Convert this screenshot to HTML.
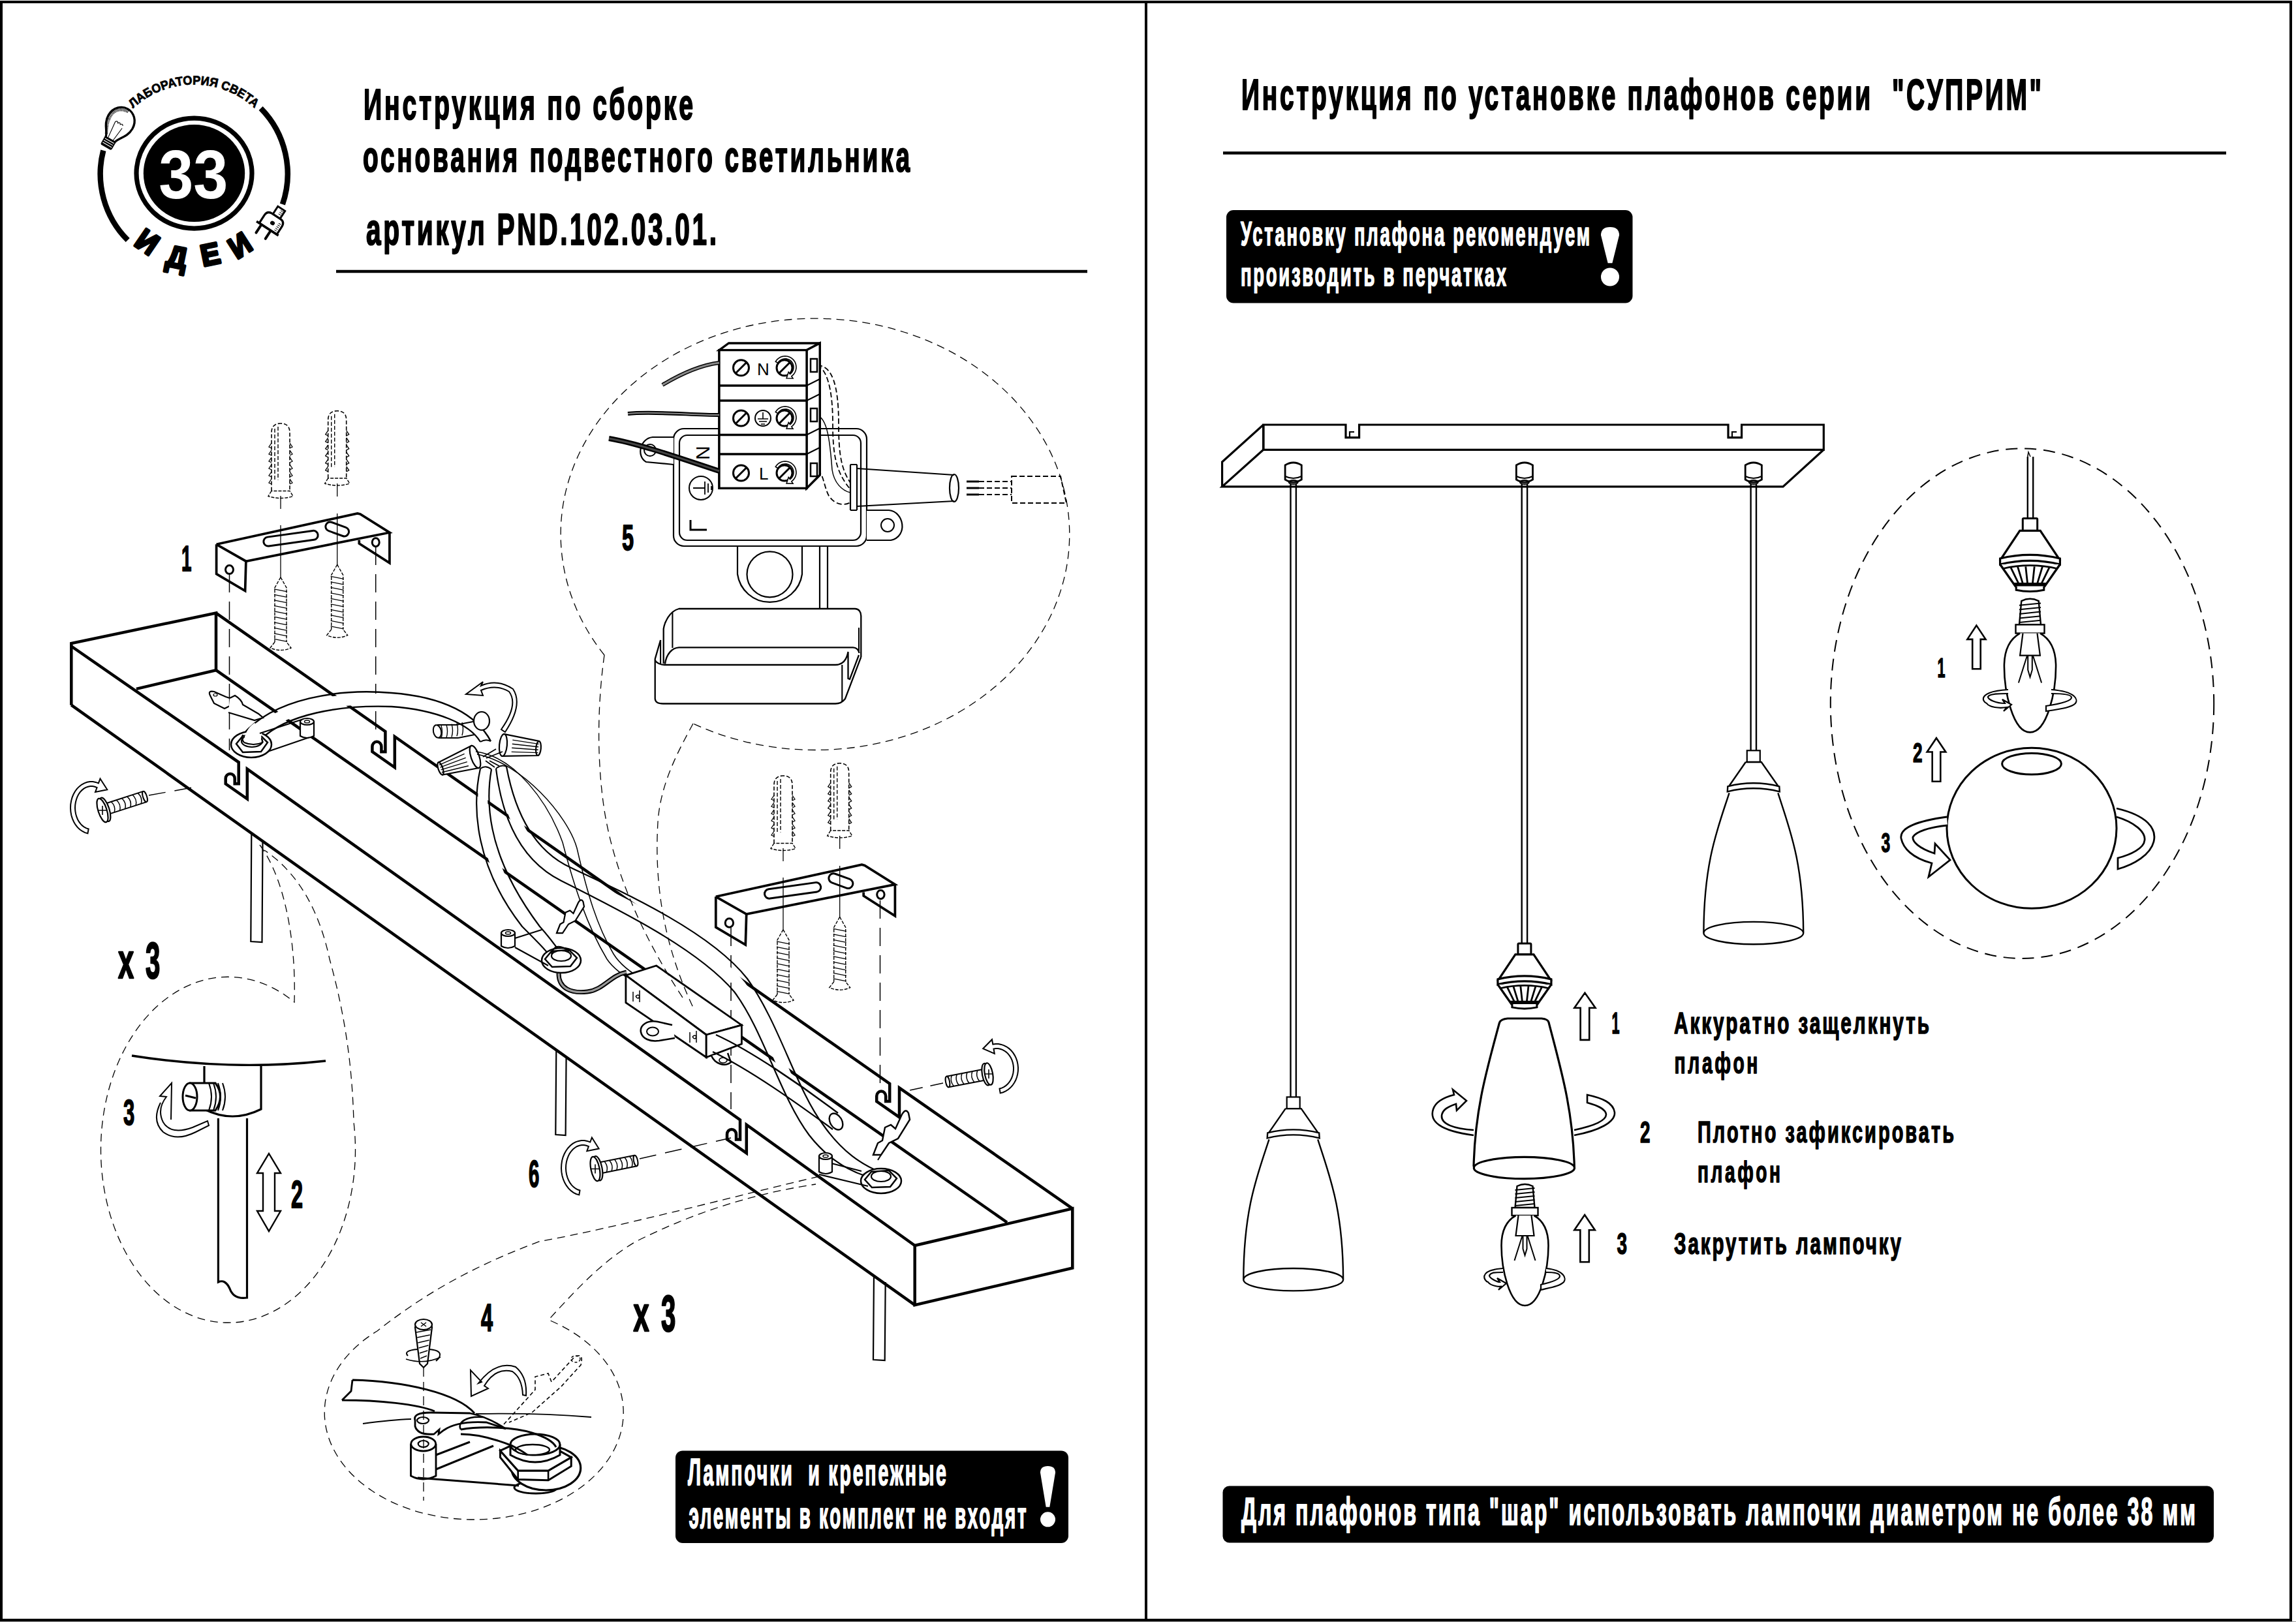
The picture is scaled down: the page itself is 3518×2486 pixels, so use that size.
<!DOCTYPE html>
<html><head><meta charset="utf-8"><title>Инструкция</title>
<style>
html,body{margin:0;padding:0;background:#fff;width:3518px;height:2486px;overflow:hidden}
svg{display:block}
text{font-family:"Liberation Sans",sans-serif}
</style></head><body>
<svg width="3518" height="2486" viewBox="0 0 3518 2486">
<rect x="0" y="0" width="3518" height="2486" fill="#fff"/>
<rect x="2" y="3" width="3508" height="2480" fill="none" stroke="#000" stroke-width="4"/>
<line x1="1756" y1="3" x2="1756" y2="2483" stroke="#000" stroke-width="4"/>
<rect x="0" y="2485" width="3518" height="1" fill="#999"/>
<text xml:space="preserve" transform="translate(557,182.7) scale(0.5854606131415689,1)" font-size="67" font-weight="bold" fill="#000" stroke="#000" stroke-width="2.2" stroke-linejoin="round" textLength="862.6" lengthAdjust="spacing" >Инструкция по сборке</text>
<text xml:space="preserve" transform="translate(556,263) scale(0.5790438408315901,1)" font-size="67" font-weight="bold" fill="#000" stroke="#000" stroke-width="2.2" stroke-linejoin="round" textLength="1447.2" lengthAdjust="spacing" >основания подвестного светильника</text>
<text xml:space="preserve" transform="translate(561,374.8) scale(0.5980021395892292,1)" font-size="68" font-weight="bold" fill="#000" stroke="#000" stroke-width="2.2" stroke-linejoin="round" textLength="898" lengthAdjust="spacing" >артикул PND.102.03.01.</text>
<line x1="515" y1="416" x2="1666" y2="416" stroke="#000" stroke-width="4.5"/>
<text xml:space="preserve" transform="translate(1902,168) scale(0.581358933994996,1)" font-size="67" font-weight="bold" fill="#000" stroke="#000" stroke-width="2.2" stroke-linejoin="round" textLength="2108.9" lengthAdjust="spacing" >Инструкция по установке плафонов серии  "СУПРИМ"</text>
<line x1="1874" y1="234.5" x2="3411" y2="234.5" stroke="#000" stroke-width="4.5"/>
<rect x="1879" y="322" width="622.5" height="142.5" rx="11" fill="#000" stroke="none" stroke-width="0"/>
<text xml:space="preserve" transform="translate(1901,375.7) scale(0.5275359982084873,1)" font-size="52" font-weight="bold" fill="#fff" stroke="#fff" stroke-width="1.7" stroke-linejoin="round" textLength="1014.1" lengthAdjust="spacing" >Установку плафона рекомендуем</text>
<text xml:space="preserve" transform="translate(1901,438.4) scale(0.5301058672148847,1)" font-size="52" font-weight="bold" fill="#fff" stroke="#fff" stroke-width="1.7" stroke-linejoin="round" textLength="767.8" lengthAdjust="spacing" >производить в перчатках</text>
<path d="M2453,360.6 Q2453,348 2467,348 Q2481,348 2481,360.6 L2470.4,403.3 L2463.6,403.3 Z" fill="#fff" stroke="none" stroke-width="0" />
<circle cx="2467" cy="424.5" r="14" fill="#fff"/>
<rect x="1873.5" y="2277.5" width="1518.5" height="87" rx="10" fill="#000" stroke="none" stroke-width="0"/>
<text xml:space="preserve" transform="translate(1902,2337.4) scale(0.5439782796666152,1)" font-size="59" font-weight="bold" fill="#fff" stroke="#fff" stroke-width="1.9" stroke-linejoin="round" textLength="2687.6" lengthAdjust="spacing" >Для плафонов типа "шар" использовать лампочки диаметром не более 38 мм</text>
<rect x="1035" y="2223.4" width="602" height="141.6" rx="11" fill="#000" stroke="none" stroke-width="0"/>
<text xml:space="preserve" transform="translate(1054,2276.2) scale(0.5017740118359542,1)" font-size="57" font-weight="bold" fill="#fff" stroke="#fff" stroke-width="1.9" stroke-linejoin="round" textLength="789.2" lengthAdjust="spacing" >Лампочки  и крепежные</text>
<text xml:space="preserve" transform="translate(1055.5,2341.7) scale(0.4875219298245614,1)" font-size="57" font-weight="bold" fill="#fff" stroke="#fff" stroke-width="1.9" stroke-linejoin="round" textLength="1060.5" lengthAdjust="spacing" >элементы в комплект не входят</text>
<path d="M1594,2257.3 Q1594,2247 1605.5,2247 Q1617,2247 1617,2257.3 L1608.3,2309.8 L1602.7,2309.8 Z" fill="#fff" stroke="none" stroke-width="0" />
<circle cx="1605.5" cy="2328.8" r="11.5" fill="#fff"/>
<path d="M195.7,368 A143.5,143.5 0 0 1 158.3,230.6" fill="none" stroke="#000" stroke-width="8.5" />
<path d="M399.6,165.9 A143.5,143.5 0 0 1 432.9,313.2" fill="none" stroke="#000" stroke-width="8.5" />
<ellipse cx="297.5" cy="265.6" rx="88.5" ry="84.5" fill="none" stroke="#000" stroke-width="7.2"/>
<ellipse cx="297.5" cy="265.6" rx="77.7" ry="74.5" fill="#000"/>
<text x="243.2" y="304" font-size="106" font-weight="bold" fill="#fff" textLength="106" lengthAdjust="spacingAndGlyphs" >33</text>
<path id="topArc" d="M203.8,166.3 A137,137 0 0 1 402.1,178.4" fill="none"/>
<text font-size="19" font-weight="bold" fill="#000" stroke="#000" stroke-width="0.8"><textPath href="#topArc" textLength="205" lengthAdjust="spacingAndGlyphs">ЛАБОРАТОРИЯ  СВЕТА</textPath></text>
<text x="0" y="17.5" font-size="46" font-weight="bold" text-anchor="middle" fill="#000" stroke="#000" stroke-width="4" stroke-linejoin="round" transform="translate(226.7,369.5) rotate(34.4) scale(0.95,1)">И</text>
<text x="0" y="17.5" font-size="46" font-weight="bold" text-anchor="middle" fill="#000" stroke="#000" stroke-width="4" stroke-linejoin="round" transform="translate(271.5,392.6) rotate(11.5) scale(0.95,1)">Д</text>
<text x="0" y="17.5" font-size="46" font-weight="bold" text-anchor="middle" fill="#000" stroke="#000" stroke-width="4" stroke-linejoin="round" transform="translate(321.8,388.2) rotate(-11.4) scale(0.95,1)">Е</text>
<text x="0" y="17.5" font-size="46" font-weight="bold" text-anchor="middle" fill="#000" stroke="#000" stroke-width="4" stroke-linejoin="round" transform="translate(366.8,374.8) rotate(-32.7) scale(0.95,1)">И</text>
<g transform="translate(181,193) rotate(30) scale(0.88)"><path d="M-9,28 C-10,18 -24,10 -24,-8 C-24,-24 -12,-34 0,-34 C12,-34 24,-24 24,-8 C24,10 10,18 9,28 Z" fill="#fff" stroke="#000" stroke-width="3.8"/><path d="M-11,22 C-16,12 -20,4 -20,-8 C-20,-22 -10,-30 3,-30" fill="none" stroke="#000" stroke-width="5" stroke-dasharray="1.1 1.1"/><rect x="-11" y="26" width="22" height="17" rx="3" fill="#000"/><path d="M-9,30 H9 M-9,34 H9 M-9,38 H9" stroke="#fff" stroke-width="1.3"/><path d="M-5,26 L-8,-4 M5,26 L8,0 M-8,-4 q3,-4 5,0 q3,-4 5,0 q3,-4 5,0" fill="none" stroke="#000" stroke-width="1.3"/></g>
<g transform="translate(409,349.5) rotate(33)"><path d="M-14,0 V-14 Q-14,-23 -5,-23 H9 Q18,-23 18,-14 V0 Z" fill="#fff" stroke="#000" stroke-width="3.2"/><path d="M11,-16 H15 M11,-13 H15 M11,-10 H15 M11,-7 H15 M11,-4 H15" stroke="#000" stroke-width="1"/><rect x="-4" y="-37" width="13" height="14" fill="#fff" stroke="#000" stroke-width="3"/><path d="M3,-34 H7 M3,-31 H7 M3,-28 H7" stroke="#000" stroke-width="1"/><path d="M-19,0 H21" stroke="#000" stroke-width="3.6"/><path d="M-10,2 V15 M7,2 V15" stroke="#000" stroke-width="4" stroke-linecap="round"/><ellipse cx="3" cy="-11" rx="3.6" ry="3.2" fill="#000"/></g>
<polyline points="109.3,1080.7 109.3,986 331,939.6 331,1027.1 208.9,1055.9" fill="none" stroke="#000" stroke-width="4.5" stroke-linejoin="miter" stroke-linecap="butt"/>
<path d="M109.3,990.5 L365.7,1168.3 V1201.3 H359.7 V1193.3 A6.6,7 0 0 0 345.7,1193.3 V1201.3 L378.8,1224.5 V1178.7 L1134,1716.4 V1746.4 H1128 V1738.4 A6.6,7 0 0 0 1114,1738.4 V1746.4 L1143.8,1767.3 V1724 L1401.7,1909" fill="none" stroke="#000" stroke-width="4.5" />
<path d="M331,939.6 L590.4,1121.2 V1152.2 H584.4 V1144.2 A6.6,7 0 0 0 570.4,1144.2 V1152.2 L604.8,1176.3 V1129 L1363.2,1661 V1688 H1357.2 V1680 A6.6,7 0 0 0 1343.2,1680 V1688 L1378,1712.4 V1667.4 L1643.3,1852.3" fill="none" stroke="#000" stroke-width="4.5" />
<line x1="331" y1="1027.1" x2="1543" y2="1873.5" stroke="#000" stroke-width="4.5"/>
<line x1="109.3" y1="1080.7" x2="1401.7" y2="2000.2" stroke="#000" stroke-width="4.5"/>
<polygon points="1401.7,1909 1643.3,1852.3 1643.3,1943.5 1401.7,2000.2" fill="none" stroke="#000" stroke-width="4.5" stroke-linejoin="miter" stroke-linecap="butt"/>
<polyline points="385.3,1278 384.3,1443 401.5,1444 402.5,1288" fill="none" stroke="#000" stroke-width="2.2" stroke-linejoin="miter" stroke-linecap="butt"/>
<polyline points="852.3,1609 851.3,1739 866.6,1740 867.6,1619" fill="none" stroke="#000" stroke-width="2.2" stroke-linejoin="miter" stroke-linecap="butt"/>
<polyline points="1339,1955 1338,2084 1355.7,2085 1356.7,1965" fill="none" stroke="#000" stroke-width="2.2" stroke-linejoin="miter" stroke-linecap="butt"/>
<polyline points="331.6,834.3 547.7,786.9 552,788 596.9,816.2 376.9,860.2 331.6,834.3" fill="none" stroke="#000" stroke-width="3.7" stroke-linejoin="miter" stroke-linecap="butt"/>
<polyline points="331.6,834.3 331.6,879.6 375.6,905.5 376.9,860.2" fill="none" stroke="#000" stroke-width="3.7" stroke-linejoin="miter" stroke-linecap="butt"/>
<polyline points="550.3,827.8 550.3,833 596.9,862.8 596.9,816.2" fill="none" stroke="#000" stroke-width="3.7" stroke-linejoin="miter" stroke-linecap="butt"/>
<ellipse cx="351.5" cy="873.1" rx="6" ry="6.5" fill="none" stroke="#000" stroke-width="3"/>
<ellipse cx="575.7" cy="831.2" rx="5.5" ry="6.5" fill="none" stroke="#000" stroke-width="3"/>
<rect x="403.5" y="818.2" width="84" height="14" rx="7" fill="none" stroke="#000" stroke-width="3" transform="rotate(-8 445.5 825.2)"/>
<rect x="498.2" y="804" width="37" height="14" rx="7" fill="none" stroke="#000" stroke-width="3" transform="rotate(20 516.7 811)"/>
<polyline points="1096.8,1374.3 1320.5,1325.2 1324.9,1326.4 1371.4,1355.6 1143.7,1401.1 1096.8,1374.3" fill="none" stroke="#000" stroke-width="3.7" stroke-linejoin="miter" stroke-linecap="butt"/>
<polyline points="1096.8,1374.3 1096.8,1421.2 1142.3,1448 1143.7,1401.1" fill="none" stroke="#000" stroke-width="3.7" stroke-linejoin="miter" stroke-linecap="butt"/>
<polyline points="1323.2,1367.6 1323.2,1373 1371.4,1403.8 1371.4,1355.6" fill="none" stroke="#000" stroke-width="3.7" stroke-linejoin="miter" stroke-linecap="butt"/>
<ellipse cx="1117.4" cy="1414.5" rx="6.2" ry="6.7" fill="none" stroke="#000" stroke-width="3"/>
<ellipse cx="1349.4" cy="1371.1" rx="5.7" ry="6.7" fill="none" stroke="#000" stroke-width="3"/>
<rect x="1171.2" y="1357.6" width="86.9" height="14.5" rx="7.2" fill="none" stroke="#000" stroke-width="3" transform="rotate(-8 1214.7 1364.9)"/>
<rect x="1269.2" y="1342.9" width="38.3" height="14.5" rx="7.2" fill="none" stroke="#000" stroke-width="3" transform="rotate(20 1288.4 1350.2)"/>
<path d="M416,752.5 V663 Q416,649 430,649 Q444,649 444,663 V752.5" fill="none" stroke="#000" stroke-width="1.6" stroke-dasharray="6 3" />
<path d="M426,654 V735.5 M421,657 V735.5" fill="none" stroke="#000" stroke-width="1.4" stroke-dasharray="6 3" />
<path d="M416,679 l-4,6 l4,2 M444,679 l4,6 l-4,2" fill="none" stroke="#000" stroke-width="1.3" />
<path d="M416,690 l-4,6 l4,2 M444,690 l4,6 l-4,2" fill="none" stroke="#000" stroke-width="1.3" />
<path d="M416,701 l-4,6 l4,2 M444,701 l4,6 l-4,2" fill="none" stroke="#000" stroke-width="1.3" />
<path d="M416,712 l-4,6 l4,2 M444,712 l4,6 l-4,2" fill="none" stroke="#000" stroke-width="1.3" />
<path d="M416,723 l-4,6 l4,2 M444,723 l4,6 l-4,2" fill="none" stroke="#000" stroke-width="1.3" />
<path d="M416,734 l-4,6 l4,2 M444,734 l4,6 l-4,2" fill="none" stroke="#000" stroke-width="1.3" />
<path d="M416,752.5 L411,760.5 Q430,766.5 449,760.5 L444,752.5 Z" fill="none" stroke="#000" stroke-width="1.4" stroke-dasharray="5 2" />
<path d="M502.7,733 V643.8 Q502.7,629.8 516.7,629.8 Q530.7,629.8 530.7,643.8 V733" fill="none" stroke="#000" stroke-width="1.6" stroke-dasharray="6 3" />
<path d="M512.7,634.8 V716 M507.7,637.8 V716" fill="none" stroke="#000" stroke-width="1.4" stroke-dasharray="6 3" />
<path d="M502.7,659.8 l-4,6 l4,2 M530.7,659.8 l4,6 l-4,2" fill="none" stroke="#000" stroke-width="1.3" />
<path d="M502.7,670.8 l-4,6 l4,2 M530.7,670.8 l4,6 l-4,2" fill="none" stroke="#000" stroke-width="1.3" />
<path d="M502.7,681.8 l-4,6 l4,2 M530.7,681.8 l4,6 l-4,2" fill="none" stroke="#000" stroke-width="1.3" />
<path d="M502.7,692.8 l-4,6 l4,2 M530.7,692.8 l4,6 l-4,2" fill="none" stroke="#000" stroke-width="1.3" />
<path d="M502.7,703.8 l-4,6 l4,2 M530.7,703.8 l4,6 l-4,2" fill="none" stroke="#000" stroke-width="1.3" />
<path d="M502.7,714.8 l-4,6 l4,2 M530.7,714.8 l4,6 l-4,2" fill="none" stroke="#000" stroke-width="1.3" />
<path d="M502.7,733 L497.7,741 Q516.7,747 535.7,741 L530.7,733 Z" fill="none" stroke="#000" stroke-width="1.4" stroke-dasharray="5 2" />
<path d="M430,884.8 L421,900.8 V984 M430,884.8 L439,900.8 V984" fill="none" stroke="#000" stroke-width="1.4" stroke-dasharray="5 2" />
<path d="M420,902.8 L440,906.8 M420,911.3 L440,915.3 M420,919.8 L440,923.8 M420,928.3 L440,932.3 M420,936.8 L440,940.8 M420,945.3 L440,949.3 M420,953.8 L440,957.8 M420,962.3 L440,966.3 M420,970.8 L440,974.8 M420,979.3 L440,983.3 " fill="none" stroke="#000" stroke-width="1.3" />
<path d="M421,984 L414,993 Q430,1000 446,993 L439,984" fill="none" stroke="#000" stroke-width="1.4" stroke-dasharray="5 2" />
<path d="M516.7,865.4 L507.7,881.4 V964.7 M516.7,865.4 L525.7,881.4 V964.7" fill="none" stroke="#000" stroke-width="1.4" stroke-dasharray="5 2" />
<path d="M506.7,883.4 L526.7,887.4 M506.7,891.9 L526.7,895.9 M506.7,900.4 L526.7,904.4 M506.7,908.9 L526.7,912.9 M506.7,917.4 L526.7,921.4 M506.7,925.9 L526.7,929.9 M506.7,934.4 L526.7,938.4 M506.7,942.9 L526.7,946.9 M506.7,951.4 L526.7,955.4 M506.7,959.9 L526.7,963.9 " fill="none" stroke="#000" stroke-width="1.3" />
<path d="M507.7,964.7 L500.7,973.7 Q516.7,980.7 532.7,973.7 L525.7,964.7" fill="none" stroke="#000" stroke-width="1.4" stroke-dasharray="5 2" />
<line x1="430" y1="760" x2="430" y2="780" stroke="#000" stroke-width="1.3"/>
<line x1="430" y1="805" x2="430" y2="885" stroke="#000" stroke-width="1.3"/>
<line x1="516.7" y1="741" x2="516.7" y2="761" stroke="#000" stroke-width="1.3"/>
<line x1="516.7" y1="787" x2="516.7" y2="866" stroke="#000" stroke-width="1.3"/>
<path d="M1186,1292.5 V1203 Q1186,1189 1200,1189 Q1214,1189 1214,1203 V1292.5" fill="none" stroke="#000" stroke-width="1.6" stroke-dasharray="6 3" />
<path d="M1196,1194 V1275.5 M1191,1197 V1275.5" fill="none" stroke="#000" stroke-width="1.4" stroke-dasharray="6 3" />
<path d="M1186,1219 l-4,6 l4,2 M1214,1219 l4,6 l-4,2" fill="none" stroke="#000" stroke-width="1.3" />
<path d="M1186,1230 l-4,6 l4,2 M1214,1230 l4,6 l-4,2" fill="none" stroke="#000" stroke-width="1.3" />
<path d="M1186,1241 l-4,6 l4,2 M1214,1241 l4,6 l-4,2" fill="none" stroke="#000" stroke-width="1.3" />
<path d="M1186,1252 l-4,6 l4,2 M1214,1252 l4,6 l-4,2" fill="none" stroke="#000" stroke-width="1.3" />
<path d="M1186,1263 l-4,6 l4,2 M1214,1263 l4,6 l-4,2" fill="none" stroke="#000" stroke-width="1.3" />
<path d="M1186,1274 l-4,6 l4,2 M1214,1274 l4,6 l-4,2" fill="none" stroke="#000" stroke-width="1.3" />
<path d="M1186,1292.5 L1181,1300.5 Q1200,1306.5 1219,1300.5 L1214,1292.5 Z" fill="none" stroke="#000" stroke-width="1.4" stroke-dasharray="5 2" />
<path d="M1272.7,1273 V1183.8 Q1272.7,1169.8 1286.7,1169.8 Q1300.7,1169.8 1300.7,1183.8 V1273" fill="none" stroke="#000" stroke-width="1.6" stroke-dasharray="6 3" />
<path d="M1282.7,1174.8 V1256 M1277.7,1177.8 V1256" fill="none" stroke="#000" stroke-width="1.4" stroke-dasharray="6 3" />
<path d="M1272.7,1199.8 l-4,6 l4,2 M1300.7,1199.8 l4,6 l-4,2" fill="none" stroke="#000" stroke-width="1.3" />
<path d="M1272.7,1210.8 l-4,6 l4,2 M1300.7,1210.8 l4,6 l-4,2" fill="none" stroke="#000" stroke-width="1.3" />
<path d="M1272.7,1221.8 l-4,6 l4,2 M1300.7,1221.8 l4,6 l-4,2" fill="none" stroke="#000" stroke-width="1.3" />
<path d="M1272.7,1232.8 l-4,6 l4,2 M1300.7,1232.8 l4,6 l-4,2" fill="none" stroke="#000" stroke-width="1.3" />
<path d="M1272.7,1243.8 l-4,6 l4,2 M1300.7,1243.8 l4,6 l-4,2" fill="none" stroke="#000" stroke-width="1.3" />
<path d="M1272.7,1254.8 l-4,6 l4,2 M1300.7,1254.8 l4,6 l-4,2" fill="none" stroke="#000" stroke-width="1.3" />
<path d="M1272.7,1273 L1267.7,1281 Q1286.7,1287 1305.7,1281 L1300.7,1273 Z" fill="none" stroke="#000" stroke-width="1.4" stroke-dasharray="5 2" />
<path d="M1200,1424.8 L1191,1440.8 V1524 M1200,1424.8 L1209,1440.8 V1524" fill="none" stroke="#000" stroke-width="1.4" stroke-dasharray="5 2" />
<path d="M1190,1442.8 L1210,1446.8 M1190,1451.3 L1210,1455.3 M1190,1459.8 L1210,1463.8 M1190,1468.3 L1210,1472.3 M1190,1476.8 L1210,1480.8 M1190,1485.3 L1210,1489.3 M1190,1493.8 L1210,1497.8 M1190,1502.3 L1210,1506.3 M1190,1510.8 L1210,1514.8 M1190,1519.3 L1210,1523.3 " fill="none" stroke="#000" stroke-width="1.3" />
<path d="M1191,1524 L1184,1533 Q1200,1540 1216,1533 L1209,1524" fill="none" stroke="#000" stroke-width="1.4" stroke-dasharray="5 2" />
<path d="M1286.7,1405.4 L1277.7,1421.4 V1504.7 M1286.7,1405.4 L1295.7,1421.4 V1504.7" fill="none" stroke="#000" stroke-width="1.4" stroke-dasharray="5 2" />
<path d="M1276.7,1423.4 L1296.7,1427.4 M1276.7,1431.9 L1296.7,1435.9 M1276.7,1440.4 L1296.7,1444.4 M1276.7,1448.9 L1296.7,1452.9 M1276.7,1457.4 L1296.7,1461.4 M1276.7,1465.9 L1296.7,1469.9 M1276.7,1474.4 L1296.7,1478.4 M1276.7,1482.9 L1296.7,1486.9 M1276.7,1491.4 L1296.7,1495.4 M1276.7,1499.9 L1296.7,1503.9 " fill="none" stroke="#000" stroke-width="1.3" />
<path d="M1277.7,1504.7 L1270.7,1513.7 Q1286.7,1520.7 1302.7,1513.7 L1295.7,1504.7" fill="none" stroke="#000" stroke-width="1.4" stroke-dasharray="5 2" />
<line x1="1200" y1="1300" x2="1200" y2="1320" stroke="#000" stroke-width="1.3"/>
<line x1="1200" y1="1345" x2="1200" y2="1425" stroke="#000" stroke-width="1.3"/>
<line x1="1286.7" y1="1281" x2="1286.7" y2="1301" stroke="#000" stroke-width="1.3"/>
<line x1="1286.7" y1="1327" x2="1286.7" y2="1406" stroke="#000" stroke-width="1.3"/>
<line x1="351.5" y1="880" x2="351.5" y2="1150" stroke="#000" stroke-width="1.5" stroke-dasharray="28 14"/>
<line x1="575.7" y1="838" x2="575.7" y2="1122" stroke="#000" stroke-width="1.5" stroke-dasharray="28 14"/>
<line x1="1120" y1="1422" x2="1120" y2="1700" stroke="#000" stroke-width="1.5" stroke-dasharray="28 14"/>
<line x1="1348.5" y1="1380" x2="1348.5" y2="1665" stroke="#000" stroke-width="1.5" stroke-dasharray="28 14"/>
<text xml:space="preserve" transform="translate(278,874.5) scale(0.4970375015677913,1)" font-size="56" font-weight="bold" fill="#000" stroke="#000" stroke-width="1.8" stroke-linejoin="round" textLength="36.2" lengthAdjust="spacing" >1</text>
<text xml:space="preserve" transform="translate(953,842.6) scale(0.5798770851624231,1)" font-size="56" font-weight="bold" fill="#000" stroke="#000" stroke-width="1.8" stroke-linejoin="round" textLength="36.2" lengthAdjust="spacing" >5</text>
<text xml:space="preserve" transform="translate(181,1499.3) scale(0.5697038029665912,1)" font-size="76" font-weight="bold" fill="#000" stroke="#000" stroke-width="2.5" stroke-linejoin="round" textLength="49.1" lengthAdjust="spacing" >x</text>
<text xml:space="preserve" transform="translate(223,1499.3) scale(0.5221404056873767,1)" font-size="77" font-weight="bold" fill="#000" stroke="#000" stroke-width="2.5" stroke-linejoin="round" textLength="49.8" lengthAdjust="spacing" >3</text>
<text xml:space="preserve" transform="translate(970.5,2040.4) scale(0.5697038029665912,1)" font-size="76" font-weight="bold" fill="#000" stroke="#000" stroke-width="2.5" stroke-linejoin="round" textLength="49.1" lengthAdjust="spacing" >x</text>
<text xml:space="preserve" transform="translate(1013,2040.4) scale(0.5221404056873767,1)" font-size="77" font-weight="bold" fill="#000" stroke="#000" stroke-width="2.5" stroke-linejoin="round" textLength="49.8" lengthAdjust="spacing" >3</text>
<text xml:space="preserve" transform="translate(189,1723.7) scale(0.5522638906308792,1)" font-size="56" font-weight="bold" fill="#000" stroke="#000" stroke-width="1.8" stroke-linejoin="round" textLength="36.2" lengthAdjust="spacing" >3</text>
<text xml:space="preserve" transform="translate(446,1850.7) scale(0.5412186128182616,1)" font-size="60" font-weight="bold" fill="#000" stroke="#000" stroke-width="2" stroke-linejoin="round" textLength="38.8" lengthAdjust="spacing" >2</text>
<text xml:space="preserve" transform="translate(737,2040.4) scale(0.5412186128182616,1)" font-size="60" font-weight="bold" fill="#000" stroke="#000" stroke-width="2" stroke-linejoin="round" textLength="38.8" lengthAdjust="spacing" >4</text>
<text xml:space="preserve" transform="translate(810,1818.8) scale(0.5065592927855651,1)" font-size="58" font-weight="bold" fill="#000" stroke="#000" stroke-width="1.9" stroke-linejoin="round" textLength="37.5" lengthAdjust="spacing" >6</text>
<path d="M386.5,1129 C430,1082.5 520,1067.5 600,1072.5 C675,1078 725,1102.5 744,1136.5" fill="none" stroke="#fff" stroke-width="17" />
<path d="M372,1126 C420,1070 520,1055 600,1062 C680,1068 730,1095 752,1136" fill="none" stroke="#000" stroke-width="2.4" />
<path d="M401,1132 C440,1095 520,1080 600,1083 C670,1088 720,1110 736,1137" fill="none" stroke="#000" stroke-width="2.4" />
<path d="M736,1137 Q744,1132 752,1136" fill="none" stroke="#000" stroke-width="2" />
<ellipse cx="385" cy="1141" rx="31" ry="20" fill="#fff" stroke="#000" stroke-width="2.5"/>
<path d="M362,1140 L372,1128 L398,1126 L410,1138 L400,1152 L372,1153 Z" fill="#fff" stroke="#000" stroke-width="2.5" />
<ellipse cx="386" cy="1136" rx="16" ry="9" fill="#fff" stroke="#000" stroke-width="2.2"/>
<path d="M374,1134 C376,1120 384,1112 390,1108 L404,1120 C400,1126 399,1132 401,1136 Z" fill="#fff" stroke="none" stroke-width="0" />
<path d="M372,1126 C370,1132 372,1136 374,1138 M401,1132 Q402,1136 403,1138" fill="none" stroke="#000" stroke-width="2.2" />
<path d="M374,1138 Q388,1144 403,1138" fill="none" stroke="#000" stroke-width="2.2" />
<path d="M410,1152 L480,1128 M398,1124 L462,1103" fill="none" stroke="#000" stroke-width="2.2" />
<path d="M460,1106 V1128 Q470,1134 481,1128 V1106" fill="#fff" stroke="#000" stroke-width="2.2" />
<ellipse cx="470.5" cy="1106" rx="10.5" ry="5" fill="#fff" stroke="#000" stroke-width="2.2"/>
<ellipse cx="470.5" cy="1106" rx="4" ry="2" fill="none" stroke="#000" stroke-width="1.5"/>
<path d="M322,1066 Q318,1058 328,1060 L346,1068 L352,1070 L352,1082 L344,1086 L328,1078 Z" fill="#fff" stroke="#000" stroke-width="2.2" />
<path d="M352,1070 L360,1066 Q370,1072 372,1080 L396,1094 L403,1100 L390,1104 L350,1092" fill="#fff" stroke="#000" stroke-width="2.2" />
<ellipse cx="330" cy="1065" rx="3" ry="2" fill="none" stroke="#000" stroke-width="1.2"/>
<path d="M769.4,1158.9 L824,1158 L826,1136 L772.6,1125.1 Z" fill="#fff" stroke="#000" stroke-width="2.2" />
<ellipse cx="825" cy="1147" rx="3.8" ry="11" fill="#fff" stroke="#000" stroke-width="2.2" transform="rotate(5.290081205371269 825 1147)"/>
<ellipse cx="771" cy="1142" rx="5.9" ry="17" fill="#fff" stroke="#000" stroke-width="2.2" transform="rotate(5.290081205371269 771 1142)"/>
<path d="M785.3,1134.1 L825.6,1140.4 M784.8,1140.2 L825.2,1144.8 M784.2,1146.3 L824.8,1149.2 M783.7,1152.4 L824.4,1153.6 " fill="none" stroke="#000" stroke-width="1.4" />
<path d="M722.2,1143 L671.8,1168.5 L678.2,1187.5 L733.8,1177 Z" fill="#fff" stroke="#000" stroke-width="2.2" />
<ellipse cx="675" cy="1178" rx="3.5" ry="10" fill="#fff" stroke="#000" stroke-width="2.2" transform="rotate(161.24134965215777 675 1178)"/>
<ellipse cx="728" cy="1160" rx="6.3" ry="18" fill="#fff" stroke="#000" stroke-width="2.2" transform="rotate(161.24134965215777 728 1160)"/>
<path d="M717.9,1173.7 L676.9,1183.7 M715.8,1167.6 L675.6,1179.9 M713.7,1161.4 L674.4,1176.1 M711.6,1155.3 L673.1,1172.3 " fill="none" stroke="#000" stroke-width="1.4" />
<path d="M699,1111 L725,1106 M702,1131 L727,1126" fill="none" stroke="#000" stroke-width="2" />
<ellipse cx="670" cy="1121" rx="6" ry="10" fill="#fff" stroke="#000" stroke-width="2" transform="rotate(-12 670 1121)"/>
<path d="M676,1112 q3,10 0,20" fill="none" stroke="#000" stroke-width="1.4" />
<path d="M684,1110.8 q3,10 0,20" fill="none" stroke="#000" stroke-width="1.4" />
<path d="M692,1109.6 q3,10 0,20" fill="none" stroke="#000" stroke-width="1.4" />
<path d="M700,1108.4 q3,10 0,20" fill="none" stroke="#000" stroke-width="1.4" />
<path d="M708,1107.2 q3,10 0,20" fill="none" stroke="#000" stroke-width="1.4" />
<path d="M670,1111 L700,1111 M672,1131 L702,1131" fill="none" stroke="#000" stroke-width="2" />
<ellipse cx="738" cy="1105" rx="12" ry="14" fill="#fff" stroke="#000" stroke-width="2.2"/>
<path d="M740,1045 L714,1064 L740,1066 L737,1058 Q760,1048 780,1060 Q795,1080 768,1118 L774,1122 Q802,1080 786,1056 Q762,1040 737,1051 Z" fill="#fff" stroke="#000" stroke-width="2" />
<path d="M744.5,1178.5 C732,1240 741,1325 813.5,1420 C837.5,1445 847.5,1457.5 852.5,1466" fill="none" stroke="#fff" stroke-width="15" />
<path d="M768,1176.5 C780,1255 810,1312.5 867.5,1340 C957.5,1383.5 1080,1442.5 1135,1510 C1182.5,1575 1207.5,1675 1251,1732.5 C1277.5,1768.5 1307.5,1788.5 1338.5,1800" fill="none" stroke="#fff" stroke-width="15" />
<path d="M736,1178 C722,1240 730,1330 800,1420 C830,1450 840,1460 845,1470" fill="none" stroke="#000" stroke-width="2.2" />
<path d="M753,1179 C742,1240 752,1320 827,1420 C845,1440 855,1455 860,1462" fill="none" stroke="#000" stroke-width="2.2" />
<path d="M736,1178 Q744,1172 753,1179" fill="none" stroke="#000" stroke-width="2" />
<path d="M760,1178 C770,1260 800,1320 860,1350 C950,1395 1070,1455 1125,1520 C1170,1580 1195,1680 1240,1740 C1265,1772 1295,1792 1325,1802" fill="none" stroke="#000" stroke-width="2.2" />
<path d="M776,1175 C790,1250 820,1305 875,1330 C965,1372 1090,1430 1145,1500 C1195,1570 1220,1670 1262,1725 C1290,1765 1320,1785 1352,1798" fill="none" stroke="#000" stroke-width="2.2" />
<path d="M760,1178 Q768,1171 776,1175" fill="none" stroke="#000" stroke-width="2" />
<path d="M729,1152 C790,1160 840,1230 862,1291 C880,1360 900,1420 930,1470 C950,1500 1000,1520 1060,1545" fill="none" stroke="#000" stroke-width="1.5" />
<path d="M731,1156 C800,1170 870,1250 884,1300 C900,1370 915,1420 940,1462 C960,1495 1010,1515 1066,1538" fill="none" stroke="#000" stroke-width="1.5" />
<path d="M740,1160 L760,1148 M745,1162 L770,1152 M744,1166 L758,1176 M750,1166 L765,1174" fill="none" stroke="#000" stroke-width="1.8" />
<ellipse cx="860" cy="1472" rx="30" ry="19" fill="#fff" stroke="#000" stroke-width="2.5"/>
<path d="M835,1470 L845,1458 L872,1456 L884,1468 L874,1481 L846,1482 Z" fill="#fff" stroke="#000" stroke-width="2.5" />
<ellipse cx="860" cy="1465" rx="15" ry="8" fill="#fff" stroke="#000" stroke-width="2.2"/>
<path d="M845,1462 C848,1450 856,1446 872,1458" fill="none" stroke="#000" stroke-width="2.2" />
<path d="M789,1452 L840,1480 M789,1438 L830,1425" fill="none" stroke="#000" stroke-width="2.2" />
<path d="M768,1430 V1450 Q778,1456 789,1450 V1430" fill="#fff" stroke="#000" stroke-width="2.2" />
<ellipse cx="778.5" cy="1430" rx="10.5" ry="5" fill="#fff" stroke="#000" stroke-width="2.2"/>
<ellipse cx="778.5" cy="1430" rx="4" ry="2" fill="none" stroke="#000" stroke-width="1.5"/>
<path d="M856,1492 C856,1515 875,1523 900,1520 C925,1517 935,1495 960,1490" fill="none" stroke="#000" stroke-width="7" />
<path d="M856,1492 C856,1515 875,1523 900,1520 C925,1517 935,1495 960,1490" fill="none" stroke="#999" stroke-width="3.2" />
<polygon points="958.9,1494.8 1005.7,1480 1136.4,1571.2 1082.2,1586" fill="#fff" stroke="#000" stroke-width="2.8" stroke-linejoin="miter" stroke-linecap="butt"/>
<polygon points="958.9,1494.8 958.9,1536.7 1082.2,1620.5 1082.2,1586" fill="#fff" stroke="#000" stroke-width="2.8" stroke-linejoin="miter" stroke-linecap="butt"/>
<polygon points="1082.2,1586 1136.4,1571.2 1136.4,1600 1082.2,1620.5" fill="#fff" stroke="#000" stroke-width="2.8" stroke-linejoin="miter" stroke-linecap="butt"/>
<path d="M1030,1571 L1008,1566 C992,1563 980,1571 982,1582 C984,1592 996,1597 1010,1595 L1034,1591" fill="#fff" stroke="#000" stroke-width="2.6" />
<ellipse cx="1000" cy="1581" rx="9" ry="6.5" fill="none" stroke="#000" stroke-width="2"/>
<path d="M1090,1618 C1095,1630 1110,1636 1120,1628 L1115,1614" fill="#fff" stroke="#000" stroke-width="2.5" />
<ellipse cx="1108" cy="1625" rx="6" ry="4" fill="none" stroke="#000" stroke-width="1.6"/>
<path d="M970,1520 V1535 M974,1527 q4,-4 6,0 q-2,6 -6,0 M980,1518 V1536" fill="none" stroke="#000" stroke-width="1.5" />
<path d="M1057,1582 V1598 M1061,1589 q4,-4 6,0 q-2,6 -6,0 M1067,1580 V1598" fill="none" stroke="#000" stroke-width="1.5" />
<path d="M1092,1612 C1150,1640 1220,1690 1276,1731" fill="none" stroke="#000" stroke-width="2.4" />
<path d="M1097,1586 C1150,1610 1230,1665 1284,1706" fill="none" stroke="#000" stroke-width="2.4" />
<ellipse cx="1281" cy="1719" rx="9" ry="13.5" fill="#fff" stroke="#000" stroke-width="2.4" transform="rotate(-30 1281 1719)"/>
<ellipse cx="1350" cy="1810" rx="31" ry="19" fill="#fff" stroke="#000" stroke-width="2.5"/>
<path d="M1325,1808 L1335,1796 L1362,1794 L1374,1806 L1364,1819 L1336,1820 Z" fill="#fff" stroke="#000" stroke-width="2.5" />
<ellipse cx="1350" cy="1803" rx="15" ry="8" fill="#fff" stroke="#000" stroke-width="2.2"/>
<path d="M1255,1800 L1330,1818 M1274,1783 L1320,1795" fill="none" stroke="#000" stroke-width="2.2" />
<path d="M1255,1772 V1796 Q1265,1802 1275,1796 V1772" fill="#fff" stroke="#000" stroke-width="2.2" />
<ellipse cx="1265" cy="1772" rx="10" ry="5" fill="#fff" stroke="#000" stroke-width="2.2"/>
<ellipse cx="1265" cy="1772" rx="4" ry="2" fill="none" stroke="#000" stroke-width="1.5"/>
<path d="M1338,1770 L1345,1752 L1352,1748 L1356,1728 L1365,1724 L1372,1730 L1382,1708 Q1388,1698 1392,1706 L1394,1716 L1376,1745 L1362,1752 L1350,1770 Z" fill="#fff" stroke="#000" stroke-width="2.4" />
<path d="M1350,1770 L1345,1778" fill="none" stroke="#000" stroke-width="2" />
<path d="M167.2,1247.6 L224.6,1229.1 M162,1231.5 L219.4,1212.9" fill="none" stroke="#000" stroke-width="2" />
<ellipse cx="222" cy="1221" rx="3" ry="8.5" fill="none" stroke="#000" stroke-width="2" transform="rotate(-17.9044475062482 222 1221)"/>
<path d="M175.4,1245 Q177.6,1235.4 170.2,1228.8 M183.6,1242.3 Q185.8,1232.7 178.4,1226.2 M191.8,1239.7 Q194,1230.1 186.6,1223.5 M200,1237 Q202.2,1227.4 194.8,1220.9 M208.2,1234.4 Q210.4,1224.8 203,1218.2 M216.4,1231.7 Q218.6,1222.1 211.2,1215.6 " fill="none" stroke="#000" stroke-width="1.5" />
<ellipse cx="160.8" cy="1240.8" rx="6.6" ry="19" fill="#fff" stroke="#000" stroke-width="2.2" transform="rotate(-17.9044475062482 160.8 1240.8)"/>
<ellipse cx="157" cy="1242" rx="6.6" ry="19" fill="#fff" stroke="#000" stroke-width="2.2" transform="rotate(-17.9044475062482 157 1242)"/>
<path d="M151,1242 L163,1242 M157,1235 L157,1249" fill="none" stroke="#000" stroke-width="1.6" />
<path d="M134.4,1277.4 L130.2,1276.1 L126.1,1274 L122.2,1271.3 L118.7,1267.9 L115.6,1263.9 L113,1259.5 L110.9,1254.6 L109.3,1249.5 L108.4,1244.1 L108,1238.6 L108.2,1233.1 L109.1,1227.6 L110.5,1222.4 L112.5,1217.5 L115,1213 L118,1208.9 L121.5,1205.4 L125.2,1202.5 L129.3,1200.3 L133.5,1198.8 L137.9,1198.1 L142.3,1198.1 L146.7,1198.9 L150.9,1200.4 L153.5,1193.4 L164.3,1210.3 L146,1214 L148.6,1207 L145.2,1205.7 L141.8,1205.1 L138.4,1205.1 L134.9,1205.7 L131.6,1206.9 L128.5,1208.7 L125.5,1211.1 L122.8,1214 L120.5,1217.3 L118.5,1221.1 L117,1225.2 L115.9,1229.5 L115.2,1233.9 L115,1238.5 L115.3,1243 L116.1,1247.5 L117.3,1251.7 L118.9,1255.7 L121,1259.4 L123.4,1262.7 L126.1,1265.4 L129.1,1267.7 L132.3,1269.4 L135.7,1270.5 Z" fill="#fff" stroke="#000" stroke-width="2" />
<line x1="228" y1="1219" x2="300" y2="1206" stroke="#000" stroke-width="1.5" stroke-dasharray="26 14"/>
<path d="M921.5,1798.3 L975.7,1787.3 M918.2,1781.6 L972.3,1770.7" fill="none" stroke="#000" stroke-width="2" />
<ellipse cx="974" cy="1779" rx="3" ry="8.5" fill="none" stroke="#000" stroke-width="2" transform="rotate(-11.39876306875793 974 1779)"/>
<path d="M929.3,1796.7 Q932.5,1787.4 925.9,1780 M937,1795.1 Q940.2,1785.8 933.6,1778.5 M944.7,1793.6 Q948,1784.3 941.4,1776.9 M952.5,1792 Q955.7,1782.7 949.1,1775.3 M960.2,1790.5 Q963.4,1781.1 956.8,1773.8 M967.9,1788.9 Q971.2,1779.6 964.6,1772.2 " fill="none" stroke="#000" stroke-width="1.5" />
<ellipse cx="915.9" cy="1790.7" rx="6.6" ry="19" fill="#fff" stroke="#000" stroke-width="2.2" transform="rotate(-11.39876306875793 915.9 1790.7)"/>
<ellipse cx="912" cy="1791.5" rx="6.6" ry="19" fill="#fff" stroke="#000" stroke-width="2.2" transform="rotate(-11.39876306875793 912 1791.5)"/>
<path d="M906,1791.5 L918,1791.5 M912,1784.5 L912,1798.5" fill="none" stroke="#000" stroke-width="1.6" />
<path d="M887.3,1831.4 L882.8,1830 L878.6,1827.8 L874.7,1824.9 L871.1,1821.4 L867.9,1817.2 L865.2,1812.6 L863,1807.5 L861.4,1802 L860.4,1796.4 L860,1790.6 L860.3,1784.8 L861.1,1779.1 L862.6,1773.6 L864.7,1768.5 L867.3,1763.7 L870.4,1759.5 L873.9,1755.8 L877.8,1752.7 L881.9,1750.4 L886.3,1748.9 L890.8,1748.1 L895.4,1748.1 L899.9,1748.9 L904.3,1750.5 L906.9,1743.5 L917.6,1760.5 L899.3,1764.2 L901.9,1757.1 L898.4,1755.8 L894.9,1755.1 L891.3,1755.1 L887.7,1755.7 L884.3,1757 L881,1759 L877.9,1761.5 L875.2,1764.5 L872.7,1768.1 L870.7,1772.1 L869.1,1776.4 L867.9,1780.9 L867.2,1785.7 L867,1790.5 L867.3,1795.3 L868.1,1800 L869.4,1804.6 L871.1,1808.8 L873.2,1812.7 L875.7,1816.1 L878.6,1819.1 L881.7,1821.5 L885,1823.3 L888.5,1824.5 Z" fill="#fff" stroke="#000" stroke-width="2" />
<line x1="980" y1="1776" x2="1120" y2="1744" stroke="#000" stroke-width="1.5" stroke-dasharray="26 14"/>
<path d="M1505.6,1639.1 L1450.4,1649.7 M1508.7,1655.8 L1453.6,1666.3" fill="none" stroke="#000" stroke-width="2" />
<ellipse cx="1452" cy="1658" rx="3" ry="8.5" fill="none" stroke="#000" stroke-width="2" transform="rotate(169.21570213243743 1452 1658)"/>
<path d="M1497.7,1640.6 Q1494.4,1649.9 1500.9,1657.3 M1489.8,1642.1 Q1486.5,1651.4 1493,1658.8 M1481.9,1643.6 Q1478.6,1652.9 1485.1,1660.3 M1474,1645.1 Q1470.7,1654.4 1477.2,1661.8 M1466.2,1646.6 Q1462.8,1655.9 1469.3,1663.3 M1458.3,1648.1 Q1455,1657.4 1461.5,1664.8 " fill="none" stroke="#000" stroke-width="1.5" />
<ellipse cx="1511.1" cy="1646.7" rx="6.1" ry="17" fill="#fff" stroke="#000" stroke-width="2.2" transform="rotate(169.21570213243743 1511.1 1646.7)"/>
<ellipse cx="1515" cy="1646" rx="6.1" ry="17" fill="#fff" stroke="#000" stroke-width="2.2" transform="rotate(169.21570213243743 1515 1646)"/>
<path d="M1509,1646 L1521,1646 M1515,1639 L1515,1653" fill="none" stroke="#000" stroke-width="1.6" />
<path d="M1532.7,1675.4 L1536.9,1674.2 L1540.9,1672.4 L1544.7,1670 L1548.2,1667.1 L1551.3,1663.7 L1554,1659.8 L1556.3,1655.5 L1558,1651 L1559.2,1646.2 L1559.9,1641.3 L1560,1636.3 L1559.5,1631.4 L1558.5,1626.6 L1556.9,1621.9 L1554.8,1617.6 L1552.3,1613.6 L1549.3,1610 L1545.9,1606.9 L1542.2,1604.3 L1538.3,1602.3 L1534.1,1600.9 L1529.9,1600.1 L1525.6,1600 L1521.3,1600.6 L1520,1593.2 L1506.2,1607.2 L1523.8,1614.9 L1522.5,1607.5 L1525.9,1607 L1529.3,1607.1 L1532.6,1607.7 L1535.9,1608.9 L1539,1610.5 L1541.9,1612.6 L1544.6,1615.1 L1546.9,1618.1 L1548.9,1621.3 L1550.6,1624.9 L1551.8,1628.7 L1552.6,1632.6 L1553,1636.6 L1552.9,1640.7 L1552.4,1644.7 L1551.4,1648.6 L1550.1,1652.3 L1548.3,1655.8 L1546.2,1658.9 L1543.7,1661.7 L1541,1664.1 L1538,1666.1 L1534.8,1667.6 L1531.5,1668.5 Z" fill="#fff" stroke="#000" stroke-width="2" />
<line x1="1445" y1="1660" x2="1385" y2="1673" stroke="#000" stroke-width="1.5" stroke-dasharray="20 12"/>
<path d="M926,1004 A389.8,330.7 0 1 1 1062,1109" fill="none" stroke="#000" stroke-width="1.3" stroke-dasharray="12 8" />
<path d="M926,1004 C918,1060 912,1150 926,1242 C940,1330 980,1430 1050,1535" fill="none" stroke="#000" stroke-width="1.3" stroke-dasharray="12 8" />
<path d="M1062,1109 C1040,1150 1012,1200 1008,1260 C1004,1330 1008,1430 1062,1544" fill="none" stroke="#000" stroke-width="1.3" stroke-dasharray="12 8" />
<polygon points="1102,536.6 1116.6,526 1256.2,526 1236,536.6" fill="#fff" stroke="#000" stroke-width="3.3" stroke-linejoin="miter" stroke-linecap="butt"/>
<rect x="1102" y="536.6" width="134" height="211.7" rx="0" fill="#fff" stroke="#000" stroke-width="3.3"/>
<polygon points="1236,536.6 1256.2,526 1256.2,728 1236,748.3" fill="#fff" stroke="#000" stroke-width="3.3" stroke-linejoin="miter" stroke-linecap="butt"/>
<line x1="1102" y1="591" x2="1236" y2="591" stroke="#000" stroke-width="3.3"/>
<line x1="1236" y1="591" x2="1256" y2="581" stroke="#000" stroke-width="2"/>
<line x1="1102" y1="614" x2="1236" y2="614" stroke="#000" stroke-width="3.3"/>
<line x1="1236" y1="614" x2="1256" y2="604" stroke="#000" stroke-width="2"/>
<line x1="1102" y1="666.5" x2="1236" y2="666.5" stroke="#000" stroke-width="3.3"/>
<line x1="1236" y1="666.5" x2="1256" y2="656.5" stroke="#000" stroke-width="2"/>
<line x1="1102" y1="696" x2="1236" y2="696" stroke="#000" stroke-width="3.3"/>
<line x1="1236" y1="696" x2="1256" y2="686" stroke="#000" stroke-width="2"/>
<circle cx="1135.5" cy="563.8" r="12" fill="#fff" stroke="#000" stroke-width="3"/>
<line x1="1127.5" y1="571.8" x2="1143.5" y2="555.8" stroke="#000" stroke-width="3"/>
<circle cx="1202" cy="563.8" r="12" fill="#fff" stroke="#000" stroke-width="3"/>
<line x1="1194" y1="571.8" x2="1210" y2="555.8" stroke="#000" stroke-width="3"/>
<circle cx="1135.5" cy="641" r="12" fill="#fff" stroke="#000" stroke-width="3"/>
<line x1="1127.5" y1="649" x2="1143.5" y2="633" stroke="#000" stroke-width="3"/>
<circle cx="1202" cy="641" r="12" fill="#fff" stroke="#000" stroke-width="3"/>
<line x1="1194" y1="649" x2="1210" y2="633" stroke="#000" stroke-width="3"/>
<circle cx="1135.5" cy="725" r="12" fill="#fff" stroke="#000" stroke-width="3"/>
<line x1="1127.5" y1="733" x2="1143.5" y2="717" stroke="#000" stroke-width="3"/>
<circle cx="1202" cy="725" r="12" fill="#fff" stroke="#000" stroke-width="3"/>
<line x1="1194" y1="733" x2="1210" y2="717" stroke="#000" stroke-width="3"/>
<path d="M1188.3,554.3 L1189.7,552.2 L1191.4,550.4 L1193.4,548.8 L1195.6,547.5 L1197.9,546.6 L1200.4,546 L1202.9,545.8 L1205.5,546 L1207.9,546.5 L1210.3,547.4 L1212.5,548.7 L1214.5,550.3 L1216.2,552.1 L1217.7,554.2 L1218.8,556.5 L1219.5,558.9 L1219.9,561.4 L1220,563.9 L1219.6,566.4 L1218.9,568.8 L1217.8,571.1 L1216.4,573.2 L1214.7,575.1 L1212.8,576.7 L1215,580 L1205.1,579.7 L1208.2,570.2 L1210.5,573.4 L1212,572.2 L1213.3,570.8 L1214.3,569.2 L1215.2,567.4 L1215.7,565.6 L1216,563.7 L1216,561.7 L1215.6,559.8 L1215.1,558 L1214.2,556.2 L1213.1,554.6 L1211.8,553.2 L1210.3,552 L1208.6,551.1 L1206.8,550.4 L1204.9,549.9 L1203,549.8 L1201,550 L1199.1,550.4 L1197.3,551.1 L1195.7,552.1 L1194.1,553.3 L1192.8,554.7 L1191.7,556.3 Z" fill="#fff" stroke="#000" stroke-width="1.6" />
<path d="M1188.3,631.5 L1189.7,629.4 L1191.4,627.6 L1193.4,626 L1195.6,624.7 L1197.9,623.8 L1200.4,623.2 L1202.9,623 L1205.5,623.2 L1207.9,623.7 L1210.3,624.6 L1212.5,625.9 L1214.5,627.5 L1216.2,629.3 L1217.7,631.4 L1218.8,633.7 L1219.5,636.1 L1219.9,638.6 L1220,641.1 L1219.6,643.6 L1218.9,646 L1217.8,648.3 L1216.4,650.4 L1214.7,652.3 L1212.8,653.9 L1215,657.2 L1205.1,656.9 L1208.2,647.4 L1210.5,650.6 L1212,649.4 L1213.3,648 L1214.3,646.4 L1215.2,644.6 L1215.7,642.8 L1216,640.9 L1216,638.9 L1215.6,637 L1215.1,635.2 L1214.2,633.4 L1213.1,631.8 L1211.8,630.4 L1210.3,629.2 L1208.6,628.3 L1206.8,627.6 L1204.9,627.1 L1203,627 L1201,627.2 L1199.1,627.6 L1197.3,628.3 L1195.7,629.3 L1194.1,630.5 L1192.8,631.9 L1191.7,633.5 Z" fill="#fff" stroke="#000" stroke-width="1.6" />
<path d="M1188.3,715.5 L1189.7,713.4 L1191.4,711.6 L1193.4,710 L1195.6,708.7 L1197.9,707.8 L1200.4,707.2 L1202.9,707 L1205.5,707.2 L1207.9,707.7 L1210.3,708.6 L1212.5,709.9 L1214.5,711.5 L1216.2,713.3 L1217.7,715.4 L1218.8,717.7 L1219.5,720.1 L1219.9,722.6 L1220,725.1 L1219.6,727.6 L1218.9,730 L1217.8,732.3 L1216.4,734.4 L1214.7,736.3 L1212.8,737.9 L1215,741.2 L1205.1,740.9 L1208.2,731.4 L1210.5,734.6 L1212,733.4 L1213.3,732 L1214.3,730.4 L1215.2,728.6 L1215.7,726.8 L1216,724.9 L1216,722.9 L1215.6,721 L1215.1,719.2 L1214.2,717.4 L1213.1,715.8 L1211.8,714.4 L1210.3,713.2 L1208.6,712.3 L1206.8,711.6 L1204.9,711.1 L1203,711 L1201,711.2 L1199.1,711.6 L1197.3,712.3 L1195.7,713.3 L1194.1,714.5 L1192.8,715.9 L1191.7,717.5 Z" fill="#fff" stroke="#000" stroke-width="1.6" />
<circle cx="1169" cy="641" r="12" fill="#fff" stroke="#000" stroke-width="2"/>
<path d="M1169,632 V642 M1161,642 H1177 M1163,646 H1175 M1166,650 H1172" fill="none" stroke="#000" stroke-width="1.6" />
<text x="1160" y="575" font-size="26" font-weight="normal" fill="#000" >N</text>
<text x="1163" y="735" font-size="26" font-weight="normal" fill="#000" >L</text>
<rect x="1242" y="550" width="10" height="20" rx="0" fill="#fff" stroke="#000" stroke-width="2.5"/>
<rect x="1242" y="626" width="10" height="20" rx="0" fill="#fff" stroke="#000" stroke-width="2.5"/>
<rect x="1242" y="710" width="10" height="20" rx="0" fill="#fff" stroke="#000" stroke-width="2.5"/>
<path d="M1252,560 C1275,560 1285,590 1285,650 C1285,700 1290,720 1303,740" fill="none" stroke="#000" stroke-width="1.8" stroke-dasharray="8 4" />
<path d="M1252,560 C1265,565 1276,590 1276,650 C1276,700 1282,725 1303,750" fill="none" stroke="#000" stroke-width="1.8" stroke-dasharray="8 4" />
<path d="M1252,637 C1268,640 1272,680 1275,720 C1278,740 1290,752 1303,755" fill="none" stroke="#000" stroke-width="1.5" />
<path d="M1252,721 C1262,725 1262,745 1270,760 C1280,775 1295,775 1303,770" fill="none" stroke="#000" stroke-width="1.8" stroke-dasharray="8 4" />
<rect x="1032" y="657" width="296" height="180" rx="16" fill="none" stroke="#000" stroke-width="2.2"/>
<rect x="1041" y="667" width="278" height="161" rx="12" fill="none" stroke="#000" stroke-width="2.2"/>
<polygon points="1236,536.6 1256.2,526 1256.2,728 1236,748.3" fill="#fff" stroke="#000" stroke-width="3.3" stroke-linejoin="miter" stroke-linecap="butt"/>
<line x1="1236" y1="591" x2="1256" y2="581" stroke="#000" stroke-width="2"/>
<line x1="1236" y1="614" x2="1256" y2="604" stroke="#000" stroke-width="2"/>
<line x1="1236" y1="666.5" x2="1256" y2="656.5" stroke="#000" stroke-width="2"/>
<line x1="1236" y1="696" x2="1256" y2="686" stroke="#000" stroke-width="2"/>
<rect x="1242" y="550" width="10" height="20" rx="0" fill="#fff" stroke="#000" stroke-width="2.5"/>
<rect x="1242" y="626" width="10" height="20" rx="0" fill="#fff" stroke="#000" stroke-width="2.5"/>
<rect x="1242" y="710" width="10" height="20" rx="0" fill="#fff" stroke="#000" stroke-width="2.5"/>
<rect x="1102" y="536.6" width="134" height="211.7" rx="0" fill="#fff" stroke="#000" stroke-width="3.3"/>
<line x1="1102" y1="591" x2="1236" y2="591" stroke="#000" stroke-width="3.3"/>
<line x1="1102" y1="614" x2="1236" y2="614" stroke="#000" stroke-width="3.3"/>
<line x1="1102" y1="666.5" x2="1236" y2="666.5" stroke="#000" stroke-width="3.3"/>
<line x1="1102" y1="696" x2="1236" y2="696" stroke="#000" stroke-width="3.3"/>
<circle cx="1135.5" cy="563.8" r="12" fill="#fff" stroke="#000" stroke-width="3"/>
<line x1="1127.5" y1="571.8" x2="1143.5" y2="555.8" stroke="#000" stroke-width="3"/>
<circle cx="1202" cy="563.8" r="12" fill="#fff" stroke="#000" stroke-width="3"/>
<line x1="1194" y1="571.8" x2="1210" y2="555.8" stroke="#000" stroke-width="3"/>
<circle cx="1135.5" cy="641" r="12" fill="#fff" stroke="#000" stroke-width="3"/>
<line x1="1127.5" y1="649" x2="1143.5" y2="633" stroke="#000" stroke-width="3"/>
<circle cx="1202" cy="641" r="12" fill="#fff" stroke="#000" stroke-width="3"/>
<line x1="1194" y1="649" x2="1210" y2="633" stroke="#000" stroke-width="3"/>
<circle cx="1135.5" cy="725" r="12" fill="#fff" stroke="#000" stroke-width="3"/>
<line x1="1127.5" y1="733" x2="1143.5" y2="717" stroke="#000" stroke-width="3"/>
<circle cx="1202" cy="725" r="12" fill="#fff" stroke="#000" stroke-width="3"/>
<line x1="1194" y1="733" x2="1210" y2="717" stroke="#000" stroke-width="3"/>
<circle cx="1169" cy="641" r="12" fill="#fff" stroke="#000" stroke-width="2"/>
<path d="M1169,632 V642 M1161,642 H1177 M1163,646 H1175 M1166,650 H1172" fill="none" stroke="#000" stroke-width="1.6" />
<text x="1160" y="575" font-size="26" font-weight="normal" fill="#000" >N</text>
<text x="1163" y="735" font-size="26" font-weight="normal" fill="#000" >L</text>
<path d="M1188.3,554.3 L1189.7,552.2 L1191.4,550.4 L1193.4,548.8 L1195.6,547.5 L1197.9,546.6 L1200.4,546 L1202.9,545.8 L1205.5,546 L1207.9,546.5 L1210.3,547.4 L1212.5,548.7 L1214.5,550.3 L1216.2,552.1 L1217.7,554.2 L1218.8,556.5 L1219.5,558.9 L1219.9,561.4 L1220,563.9 L1219.6,566.4 L1218.9,568.8 L1217.8,571.1 L1216.4,573.2 L1214.7,575.1 L1212.8,576.7 L1215,580 L1205.1,579.7 L1208.2,570.2 L1210.5,573.4 L1212,572.2 L1213.3,570.8 L1214.3,569.2 L1215.2,567.4 L1215.7,565.6 L1216,563.7 L1216,561.7 L1215.6,559.8 L1215.1,558 L1214.2,556.2 L1213.1,554.6 L1211.8,553.2 L1210.3,552 L1208.6,551.1 L1206.8,550.4 L1204.9,549.9 L1203,549.8 L1201,550 L1199.1,550.4 L1197.3,551.1 L1195.7,552.1 L1194.1,553.3 L1192.8,554.7 L1191.7,556.3 Z" fill="#fff" stroke="#000" stroke-width="1.6" />
<path d="M1188.3,631.5 L1189.7,629.4 L1191.4,627.6 L1193.4,626 L1195.6,624.7 L1197.9,623.8 L1200.4,623.2 L1202.9,623 L1205.5,623.2 L1207.9,623.7 L1210.3,624.6 L1212.5,625.9 L1214.5,627.5 L1216.2,629.3 L1217.7,631.4 L1218.8,633.7 L1219.5,636.1 L1219.9,638.6 L1220,641.1 L1219.6,643.6 L1218.9,646 L1217.8,648.3 L1216.4,650.4 L1214.7,652.3 L1212.8,653.9 L1215,657.2 L1205.1,656.9 L1208.2,647.4 L1210.5,650.6 L1212,649.4 L1213.3,648 L1214.3,646.4 L1215.2,644.6 L1215.7,642.8 L1216,640.9 L1216,638.9 L1215.6,637 L1215.1,635.2 L1214.2,633.4 L1213.1,631.8 L1211.8,630.4 L1210.3,629.2 L1208.6,628.3 L1206.8,627.6 L1204.9,627.1 L1203,627 L1201,627.2 L1199.1,627.6 L1197.3,628.3 L1195.7,629.3 L1194.1,630.5 L1192.8,631.9 L1191.7,633.5 Z" fill="#fff" stroke="#000" stroke-width="1.6" />
<path d="M1188.3,715.5 L1189.7,713.4 L1191.4,711.6 L1193.4,710 L1195.6,708.7 L1197.9,707.8 L1200.4,707.2 L1202.9,707 L1205.5,707.2 L1207.9,707.7 L1210.3,708.6 L1212.5,709.9 L1214.5,711.5 L1216.2,713.3 L1217.7,715.4 L1218.8,717.7 L1219.5,720.1 L1219.9,722.6 L1220,725.1 L1219.6,727.6 L1218.9,730 L1217.8,732.3 L1216.4,734.4 L1214.7,736.3 L1212.8,737.9 L1215,741.2 L1205.1,740.9 L1208.2,731.4 L1210.5,734.6 L1212,733.4 L1213.3,732 L1214.3,730.4 L1215.2,728.6 L1215.7,726.8 L1216,724.9 L1216,722.9 L1215.6,721 L1215.1,719.2 L1214.2,717.4 L1213.1,715.8 L1211.8,714.4 L1210.3,713.2 L1208.6,712.3 L1206.8,711.6 L1204.9,711.1 L1203,711 L1201,711.2 L1199.1,711.6 L1197.3,712.3 L1195.7,713.3 L1194.1,714.5 L1192.8,715.9 L1191.7,717.5 Z" fill="#fff" stroke="#000" stroke-width="1.6" />
<path d="M1032,670 L1000,670 C980,672 975,700 990,708 L1032,712" fill="#fff" stroke="#000" stroke-width="2.2" />
<circle cx="996" cy="690" r="9" fill="#fff" stroke="#000" stroke-width="2"/>
<path d="M1328,782 L1362,782 C1385,784 1392,822 1365,828 L1328,828" fill="#fff" stroke="#000" stroke-width="2.2" />
<circle cx="1360" cy="805" r="10" fill="#fff" stroke="#000" stroke-width="2"/>
<path d="M1015,590 C1040,575 1070,560 1102,556" fill="none" stroke="#000" stroke-width="6" />
<path d="M1015,590 C1040,575 1070,560 1102,556" fill="none" stroke="#888" stroke-width="3" />
<path d="M962,634 C1000,630 1060,636 1102,636" fill="none" stroke="#000" stroke-width="6" />
<path d="M962,634 C1000,630 1060,636 1102,636" fill="none" stroke="#888" stroke-width="2" />
<path d="M933,672 C980,680 1050,705 1102,722" fill="none" stroke="#000" stroke-width="8" />
<path d="M933,672 C980,680 1050,705 1102,722" fill="none" stroke="#444" stroke-width="3" />
<text x="0" y="0" font-size="30" fill="#000" transform="translate(1087,705) rotate(-90)" font-family="Liberation Sans">N</text>
<circle cx="1074" cy="748" r="18" fill="#fff" stroke="#000" stroke-width="2"/>
<path d="M1062,748 H1080 M1080,738 V758 M1085,741 V755 M1090,745 V751" fill="none" stroke="#000" stroke-width="1.8" />
<path d="M1058,797 V812 H1083" fill="none" stroke="#000" stroke-width="3" />
<path d="M1303,712 V782 M1313,712 V782 M1303,712 H1313 M1303,782 H1313" fill="none" stroke="#000" stroke-width="2.2" />
<path d="M1313,718 L1462,728 M1313,776 L1462,768" fill="none" stroke="#000" stroke-width="2.2" />
<ellipse cx="1462" cy="748" rx="7" ry="21" fill="none" stroke="#000" stroke-width="2.2"/>
<line x1="1481" y1="738" x2="1500" y2="738" stroke="#000" stroke-width="3"/>
<line x1="1500" y1="738" x2="1550" y2="738" stroke="#000" stroke-width="2" stroke-dasharray="8 4"/>
<line x1="1481" y1="748" x2="1500" y2="748" stroke="#000" stroke-width="3"/>
<line x1="1500" y1="748" x2="1550" y2="748" stroke="#000" stroke-width="2" stroke-dasharray="8 4"/>
<line x1="1481" y1="758" x2="1500" y2="758" stroke="#000" stroke-width="3"/>
<line x1="1500" y1="758" x2="1550" y2="758" stroke="#000" stroke-width="2" stroke-dasharray="8 4"/>
<path d="M1550,730 H1625 L1634,771 H1550 Z" fill="none" stroke="#000" stroke-width="2" stroke-dasharray="8 4" />
<path d="M1130,837 V880 A50,50 0 0 0 1229,880 V837" fill="none" stroke="#000" stroke-width="2.2" />
<circle cx="1179.5" cy="880.3" r="35" fill="none" stroke="#000" stroke-width="2.2"/>
<path d="M1256,837 V932 M1268,837 V932" fill="none" stroke="#000" stroke-width="2.2" />
<path d="M1016.7,1017 V964 C1018,955 1025,937 1040.3,933 H1310 C1316,933 1319.3,938 1319.3,944 V1007" fill="none" stroke="#000" stroke-width="2.3" />
<path d="M1030.4,938 V993 M1316,962 V1000" fill="none" stroke="#000" stroke-width="2.1" />
<path d="M1019,1017.6 C1021,1002 1030,993 1040.3,992.4 H1307 C1312,992.4 1316,996 1316.5,1001" fill="none" stroke="#000" stroke-width="2.3" />
<path d="M1012.1,981 L1003.7,1010 V1071 C1004,1076 1009,1078.5 1016,1078.5 H1280 C1287,1078.5 1292,1075 1295,1071 L1319.3,1007" fill="none" stroke="#000" stroke-width="2.3" />
<path d="M1003.7,1012 C1006,1016 1012,1019 1018,1019 H1280 C1290,1019 1297,1013 1299.5,999 V1040 L1302,1041 L1316,1004" fill="none" stroke="#000" stroke-width="2.3" />
<path d="M1290.3,1019 V1075 M1012.1,981 V1017" fill="none" stroke="#000" stroke-width="2.1" />
<g transform="translate(853,1430) scale(0.75) translate(-1338,-1770)">
<path d="M1338,1770 L1345,1752 L1352,1748 L1356,1728 L1365,1724 L1372,1730 L1382,1708 Q1388,1698 1392,1706 L1394,1716 L1376,1745 L1362,1752 L1350,1770 Z" fill="#fff" stroke="#000" stroke-width="3" />
</g>
<path d="M398,1295 C432,1340 454,1430 451,1536 A195,265 0 1 0 542,1720 C540,1640 530,1560 505,1470 C490,1400 460,1340 405,1303" fill="none" stroke="#000" stroke-width="1.3" stroke-dasharray="12 8" />
<path d="M202,1618 Q354,1642 499,1626" fill="none" stroke="#000" stroke-width="3.5" />
<path d="M313,1634 V1700 Q356,1722 400,1700 V1634" fill="#fff" stroke="#000" stroke-width="3.2" />
<path d="M334.4,1714 V1965 Q345,1960 352,1975 Q358,1992 378.5,1989 V1714" fill="#fff" stroke="#000" stroke-width="3.2" />
<path d="M290,1660 H330 Q345,1680 330,1702 H290" fill="#fff" stroke="#000" stroke-width="3" />
<path d="M320,1660 q8,21 0,42" fill="none" stroke="#000" stroke-width="2" />
<path d="M327,1660 q8,21 0,42" fill="none" stroke="#000" stroke-width="2" />
<path d="M334,1660 q8,21 0,42" fill="none" stroke="#000" stroke-width="2" />
<path d="M341,1660 q8,21 0,42" fill="none" stroke="#000" stroke-width="2" />
<ellipse cx="291" cy="1681" rx="11" ry="21" fill="#fff" stroke="#000" stroke-width="3"/>
<line x1="284" y1="1679" x2="300" y2="1683" stroke="#000" stroke-width="3"/>
<path d="M262,1716 L263,1660 L245,1680 L255,1681 Q240,1700 250,1720 Q262,1740 295,1728 L318,1718 L320,1725 L300,1735 Q270,1750 250,1735 Q232,1718 246,1690" fill="none" stroke="#000" stroke-width="2" />
<path d="M412,1768 L430,1798 H421 V1856 H430 L412,1887 L394,1856 H403 V1798 H394 Z" fill="#fff" stroke="#000" stroke-width="2.4" />
<path d="M1255,1803 C1100,1840 950,1880 826,1903 C740,1935 660,1975 578,2040 A229,164 0 1 0 840.5,2022.9 C880,1980 920,1935 974,1903 C1060,1860 1150,1830 1250,1815" fill="none" stroke="#000" stroke-width="1.3" stroke-dasharray="12 8" />
<path d="M540,2115 C620,2117 700,2135 727,2166 M524,2146 C580,2146 640,2152 666,2163 M540,2115 L538,2132 L524,2146" fill="none" stroke="#000" stroke-width="2.8" />
<path d="M556,2182 Q600,2176 630,2175 M729,2167 Q820,2165 906,2172" fill="none" stroke="#000" stroke-width="1.8" />
<path d="M636,2177 Q632,2165 660,2165 L720,2166 C740,2170 760,2180 775,2190 L745,2180 C710,2178 690,2185 680,2192 L672,2198 L673,2191 L665,2198 Q640,2200 636,2186 Z" fill="#fff" stroke="#000" stroke-width="2.8" />
<ellipse cx="648" cy="2177" rx="9" ry="5" fill="none" stroke="#000" stroke-width="2.2"/>
<path d="M629.5,2213 V2262 Q648,2272 668,2262 V2213" fill="#fff" stroke="#000" stroke-width="2.8" />
<ellipse cx="648.7" cy="2213" rx="19" ry="11" fill="#fff" stroke="#000" stroke-width="2.8"/>
<ellipse cx="648.7" cy="2213" rx="8" ry="5" fill="none" stroke="#000" stroke-width="2.2"/>
<ellipse cx="821" cy="2280" rx="33" ry="9" fill="#fff" stroke="#000" stroke-width="3"/>
<path d="M640,2265 L795,2277 M668,2230 L720,2210 M668,2252 L756,2216" fill="none" stroke="#000" stroke-width="3" />
<ellipse cx="836.7" cy="2250" rx="53" ry="34" fill="#fff" stroke="#000" stroke-width="3.2"/>
<polygon points="766.5,2223.4 793.7,2254 840.1,2254 875.2,2233.6 875.2,2247.2 840.1,2268.7 793.7,2267.6 766.5,2233.6" fill="#fff" stroke="#000" stroke-width="3" stroke-linejoin="miter" stroke-linecap="butt"/>
<path d="M793.7,2254 V2267.6 M840.1,2254 V2268.7" fill="none" stroke="#000" stroke-width="2.6" />
<polygon points="766.5,2223.4 781.2,2216.6 844.6,2216.6 875.2,2233.6 840.1,2254 793.7,2254" fill="#fff" stroke="#000" stroke-width="3" stroke-linejoin="miter" stroke-linecap="butt"/>
<path d="M782,2214 V2230 Q820,2252 858,2230 V2214" fill="#fff" stroke="#000" stroke-width="3" />
<ellipse cx="820" cy="2214" rx="38" ry="16" fill="#fff" stroke="#000" stroke-width="3"/>
<ellipse cx="816" cy="2222" rx="26" ry="8" fill="#fff" stroke="#000" stroke-width="2.4"/>
<path d="M706,2191 C740,2185 790,2188 815,2196 C835,2202 848,2210 852,2218 M706,2198 C735,2198 765,2208 785,2216 C800,2224 806,2228 808,2230" fill="none" stroke="#000" stroke-width="3" />
<path d="M706,2191 C700,2180 715,2170 740,2172" fill="none" stroke="#000" stroke-width="2.6" />
<path d="M772,2183 L820,2130 L820,2110 L840,2105 L845,2118 L880,2080 Q895,2072 890,2092 L860,2125 L815,2165 L780,2180" fill="none" stroke="#000" stroke-width="1.6" stroke-dasharray="6 4" />
<ellipse cx="882" cy="2083" rx="7" ry="5" fill="none" stroke="#000" stroke-width="1.4" stroke-dasharray="4 3"/>
<path d="M722,2140 L721,2100 L738,2118 L733,2120 Q760,2085 790,2095 Q808,2110 806,2139 L801,2138 Q800,2112 785,2102 Q760,2095 742,2124 L748,2128 Z" fill="#fff" stroke="#000" stroke-width="2" />
<path d="M640,2028 Q648,2022 660,2028 L662,2034 L655,2090 L649,2096 L643,2090 L636,2034 Z" fill="#fff" stroke="#000" stroke-width="2.2" />
<ellipse cx="649" cy="2030" rx="13" ry="8" fill="#fff" stroke="#000" stroke-width="2.2"/>
<path d="M645,2027 L653,2033 M653,2027 L645,2033" fill="none" stroke="#000" stroke-width="1.5" />
<path d="M638.0,2042 L660.0,2038" fill="none" stroke="#000" stroke-width="1.5" />
<path d="M639.2,2050 L658.8,2046" fill="none" stroke="#000" stroke-width="1.5" />
<path d="M640.4,2058 L657.6,2054" fill="none" stroke="#000" stroke-width="1.5" />
<path d="M641.6,2066 L656.4,2062" fill="none" stroke="#000" stroke-width="1.5" />
<path d="M642.8,2074 L655.2,2070" fill="none" stroke="#000" stroke-width="1.5" />
<path d="M644.0,2082 L654.0,2078" fill="none" stroke="#000" stroke-width="1.5" />
<path d="M625,2078 Q617,2070 640,2068 M658,2068 Q680,2070 672,2082 L668,2086" fill="none" stroke="#000" stroke-width="2" />
<path d="M622,2083 Q650,2092 675,2080" fill="none" stroke="#000" stroke-width="1.5" />
<line x1="649" y1="2096" x2="649" y2="2300" stroke="#000" stroke-width="1.3" stroke-dasharray="14 8"/>
<path d="M1935.8,651 H2062 V670.6 H2082.6 V651 H2648 V670.6 H2668.6 V651 H2794.3 V689.3 H1935.8 Z" fill="#fff" stroke="#000" stroke-width="3.2" />
<path d="M2068,670.6 V662 H2075" fill="none" stroke="#000" stroke-width="2.2" />
<path d="M2654,670.6 V662 H2661" fill="none" stroke="#000" stroke-width="2.2" />
<polyline points="1935.8,689.3 1872.6,745.9 2732,745.9 2794.3,689.3" fill="none" stroke="#000" stroke-width="3.2" stroke-linejoin="miter" stroke-linecap="butt"/>
<polyline points="1935.8,651 1872.6,708 1872.6,745.9" fill="none" stroke="#000" stroke-width="3.2" stroke-linejoin="miter" stroke-linecap="butt"/>
<line x1="1935.8" y1="651" x2="1935.8" y2="689.3" stroke="#000" stroke-width="3.2"/>
<path d="M1969.1,713 V735 Q1981.7,743 1994.3,735 V713 Q1981.7,705 1969.1,713 Z" fill="#fff" stroke="#000" stroke-width="2.8" />
<path d="M1969.1,730 Q1981.7,736 1994.3,730" fill="none" stroke="#000" stroke-width="2" />
<ellipse cx="1981.7" cy="739" rx="7" ry="3" fill="none" stroke="#000" stroke-width="2"/>
<path d="M2323.3,713 V735 Q2335.9,743 2348.5,735 V713 Q2335.9,705 2323.3,713 Z" fill="#fff" stroke="#000" stroke-width="2.8" />
<path d="M2323.3,730 Q2335.9,736 2348.5,730" fill="none" stroke="#000" stroke-width="2" />
<ellipse cx="2335.9" cy="739" rx="7" ry="3" fill="none" stroke="#000" stroke-width="2"/>
<path d="M2674.2,713 V735 Q2686.8,743 2699.4,735 V713 Q2686.8,705 2674.2,713 Z" fill="#fff" stroke="#000" stroke-width="2.8" />
<path d="M2674.2,730 Q2686.8,736 2699.4,730" fill="none" stroke="#000" stroke-width="2" />
<ellipse cx="2686.8" cy="739" rx="7" ry="3" fill="none" stroke="#000" stroke-width="2"/>
<line x1="1977.5" y1="741" x2="1977.5" y2="1681.4" stroke="#000" stroke-width="2.4"/>
<line x1="1985.9" y1="741" x2="1985.9" y2="1681.4" stroke="#000" stroke-width="2.4"/>
<rect x="1971.7" y="1681.4" width="20" height="17.7" rx="0" fill="#fff" stroke="#000" stroke-width="2.2"/>
<path d="M1969.7,1699.1 H1993.7 L2020.4,1737.4 M1969.7,1699.1 L1943.2,1737.4" fill="none" stroke="#000" stroke-width="2.4" />
<path d="M1942.2,1736.4 Q1981.7,1726.4 2021.2,1736.4 L2021.7,1744.4 Q1981.7,1734.4 1941.7,1744.4 Z" fill="#fff" stroke="#000" stroke-width="2.4" />
<path d="M1944.5,1746.4 C1926.7,1801.4 1905.7,1851.4 1905.3,1960.4 M2019.2,1746.4 C2036.7,1801.4 2057.7,1851.4 2058.1,1960.4" fill="none" stroke="#000" stroke-width="2.4" />
<ellipse cx="1981.7" cy="1961.2" rx="76.4" ry="17.2" fill="none" stroke="#000" stroke-width="2.4"/>
<line x1="2682.6" y1="741" x2="2682.6" y2="1150.3" stroke="#000" stroke-width="2.4"/>
<line x1="2691" y1="741" x2="2691" y2="1150.3" stroke="#000" stroke-width="2.4"/>
<rect x="2676.8" y="1150.3" width="20" height="17.7" rx="0" fill="#fff" stroke="#000" stroke-width="2.2"/>
<path d="M2674.8,1168 H2698.8 L2725.5,1206.3 M2674.8,1168 L2648.3,1206.3" fill="none" stroke="#000" stroke-width="2.4" />
<path d="M2647.3,1205.3 Q2686.8,1195.3 2726.3,1205.3 L2726.8,1213.3 Q2686.8,1203.3 2646.8,1213.3 Z" fill="#fff" stroke="#000" stroke-width="2.4" />
<path d="M2649.6,1215.3 C2631.8,1270.3 2610.8,1320.3 2610.4,1429.3 M2724.3,1215.3 C2741.8,1270.3 2762.8,1320.3 2763.2,1429.3" fill="none" stroke="#000" stroke-width="2.4" />
<ellipse cx="2686.8" cy="1430.1" rx="76.4" ry="17.2" fill="none" stroke="#000" stroke-width="2.4"/>
<line x1="2331.7" y1="741" x2="2331.7" y2="1446" stroke="#000" stroke-width="2.4"/>
<line x1="2340.1" y1="741" x2="2340.1" y2="1446" stroke="#000" stroke-width="2.4"/>
<rect x="2325.9" y="1445.9" width="20" height="17" rx="1.5" fill="#fff" stroke="#000" stroke-width="3"/>
<path d="M2321.9,1462.9 H2349.9 L2375.9,1501.9 H2295.9 Z" fill="#fff" stroke="#000" stroke-width="3.3" />
<path d="M2294.9,1500.9 Q2335.9,1490.9 2376.9,1500.9 L2376.9,1508.9 Q2335.9,1498.9 2294.9,1508.9 Z" fill="#fff" stroke="#000" stroke-width="3.2" />
<path d="M2294.9,1508.9 L2315.9,1538.9 H2355.9 L2376.9,1508.9" fill="#fff" stroke="#000" stroke-width="3.4" />
<path d="M2297.9,1514.9 Q2335.9,1505.9 2373.9,1514.9" fill="none" stroke="#000" stroke-width="2.6" />
<path d="M2308.9,1511.9 L2321.1,1536.9 M2318.9,1511.9 L2326.6,1536.9 M2329.9,1511.9 L2332.6,1536.9 M2341.9,1511.9 L2339.2,1536.9 M2352.9,1511.9 L2345.2,1536.9 M2362.9,1511.9 L2350.8,1536.9 " fill="none" stroke="#000" stroke-width="2.8" />
<path d="M2313.9,1535.9 H2357.9" fill="none" stroke="#000" stroke-width="4.5" />
<path d="M2316.9,1538.9 V1543.9 Q2335.9,1547.9 2354.9,1543.9 V1538.9" fill="#fff" stroke="#000" stroke-width="3" />
<path d="M2297.6,1567 Q2300,1562 2310,1561 H2362 Q2372,1562 2373,1567 C2392,1640 2410,1700 2412.3,1788 M2297.6,1567 C2278,1640 2260,1700 2258,1788" fill="none" stroke="#000" stroke-width="3.2" />
<ellipse cx="2335.4" cy="1790" rx="77.1" ry="16.6" fill="none" stroke="#000" stroke-width="3.2"/>
<path d="M2258,1740 C2205,1733 2190,1718 2196,1700 C2200,1688 2212,1682 2228,1678 L2226,1670 L2247,1687 L2232,1702 L2231,1692 C2216,1697 2210,1702 2209,1710 C2208,1723 2228,1730 2258,1732" fill="#fff" stroke="#000" stroke-width="2.6" />
<path d="M2412,1740 C2450,1733 2475,1720 2474,1705 C2472,1690 2455,1683 2432,1678 L2432,1690 C2450,1695 2460,1700 2461,1708 C2461,1718 2440,1726 2412,1732" fill="#fff" stroke="#000" stroke-width="2.6" />
<path d="M2324.5,1818 Q2336.5,1812 2348.5,1818 L2351.5,1851 H2321.5 Z" fill="#fff" stroke="#000" stroke-width="2.4" />
<path d="M2321.5,1824 L2351.5,1821 M2321.5,1830 L2351.5,1827 M2321.5,1836 L2351.5,1833 M2321.5,1842 L2351.5,1839 M2321.5,1848 L2351.5,1845 " fill="none" stroke="#000" stroke-width="2" />
<rect x="2316.5" y="1851" width="40" height="12" rx="0" fill="#fff" stroke="#000" stroke-width="2.4"/>
<path d="M2322.5,1863 C2306.5,1872 2300.5,1889 2300.5,1909 C2300.5,1944 2312.5,2001 2336.5,2001 C2360.5,2001 2372.5,1944 2372.5,1909 C2372.5,1889 2366.5,1872 2350.5,1863" fill="#fff" stroke="#000" stroke-width="2.6" />
<path d="M2326.5,1863 L2322.5,1894 H2350.5 L2346.5,1863" fill="none" stroke="#000" stroke-width="2.2" />
<path d="M2332.5,1894 L2320.5,1932 M2340.5,1894 L2352.5,1932 M2333.5,1894 L2333.5,1914 L2336.5,1924 L2339.5,1914 L2339.5,1894" fill="none" stroke="#000" stroke-width="2" />
<path d="M2303,1944 C2264,1947 2274,1963 2280,1965 C2284,1971 2299,1973 2301,1971 L2296,1977 L2308,1967 L2294,1959 L2298,1965 C2294,1965 2282,1959 2282,1955 C2284,1950 2291,1950 2303,1950" fill="#fff" stroke="#000" stroke-width="2.2" />
<path d="M2369,1944 C2398,1947 2400,1960 2396,1965 C2390,1971 2378,1973 2361,1977 L2361,1969 C2378,1965 2390,1961 2390,1956 C2390,1950 2376,1950 2369,1950" fill="#fff" stroke="#000" stroke-width="2.2" />
<path d="M2428.4,1521.7 L2444.5,1544.8 H2435.2 V1593.9 H2421.6 V1544.8 H2412.3 Z" fill="#fff" stroke="#000" stroke-width="2.6" />
<path d="M2428.1,1862.1 L2443.8,1885.2 H2434.8 V1934.2 H2421.3 V1885.2 H2412.3 Z" fill="#fff" stroke="#000" stroke-width="2.6" />
<path d="M3028.4,958.6 L3042.5,979.9 H3034.7 V1025.2 H3022.2 V979.9 H3014.4 Z" fill="#fff" stroke="#000" stroke-width="2.6" />
<path d="M2967,1131.2 L2981.3,1152.5 H2973.3 V1197.8 H2960.7 V1152.5 H2952.7 Z" fill="#fff" stroke="#000" stroke-width="2.6" />
<text xml:space="preserve" transform="translate(2469.5,1583.8) scale(0.4706248807115318,1)" font-size="46" font-weight="bold" fill="#000" stroke="#000" stroke-width="1.5" stroke-linejoin="round" textLength="29.7" lengthAdjust="spacing" >1</text>
<text xml:space="preserve" transform="translate(2513,1751.4) scale(0.6050891323433981,1)" font-size="46" font-weight="bold" fill="#000" stroke="#000" stroke-width="1.5" stroke-linejoin="round" textLength="29.7" lengthAdjust="spacing" >2</text>
<text xml:space="preserve" transform="translate(2477.5,1921.9) scale(0.6050891323433981,1)" font-size="46" font-weight="bold" fill="#000" stroke="#000" stroke-width="1.5" stroke-linejoin="round" textLength="29.7" lengthAdjust="spacing" >3</text>
<text xml:space="preserve" transform="translate(2565,1583.8) scale(0.6479217519259066,1)" font-size="46" font-weight="bold" fill="#000" stroke="#000" stroke-width="1.5" stroke-linejoin="round" textLength="603.5" lengthAdjust="spacing" >Аккуратно защелкнуть</text>
<text xml:space="preserve" transform="translate(2565.5,1645) scale(0.6159297528563856,1)" font-size="46" font-weight="bold" fill="#000" stroke="#000" stroke-width="1.5" stroke-linejoin="round" textLength="207.8" lengthAdjust="spacing" >плафон</text>
<text xml:space="preserve" transform="translate(2601,1751.4) scale(0.6302072032208548,1)" font-size="46" font-weight="bold" fill="#000" stroke="#000" stroke-width="1.5" stroke-linejoin="round" textLength="623.6" lengthAdjust="spacing" >Плотно зафиксировать</text>
<text xml:space="preserve" transform="translate(2601,1811.8) scale(0.6111178016621952,1)" font-size="46" font-weight="bold" fill="#000" stroke="#000" stroke-width="1.5" stroke-linejoin="round" textLength="207.8" lengthAdjust="spacing" >плафон</text>
<text xml:space="preserve" transform="translate(2565,1921.9) scale(0.6428865235432076,1)" font-size="46" font-weight="bold" fill="#000" stroke="#000" stroke-width="1.5" stroke-linejoin="round" textLength="541.3" lengthAdjust="spacing" >Закрутить лампочку</text>
<text xml:space="preserve" transform="translate(2968.5,1037.5) scale(0.5154462979221539,1)" font-size="42" font-weight="bold" fill="#000" stroke="#000" stroke-width="1.4" stroke-linejoin="round" textLength="27.2" lengthAdjust="spacing" >1</text>
<text xml:space="preserve" transform="translate(2931,1168.2) scale(0.6258990760483297,1)" font-size="42" font-weight="bold" fill="#000" stroke="#000" stroke-width="1.4" stroke-linejoin="round" textLength="27.2" lengthAdjust="spacing" >2</text>
<text xml:space="preserve" transform="translate(2882.5,1306.3) scale(0.5890814833396045,1)" font-size="42" font-weight="bold" fill="#000" stroke="#000" stroke-width="1.4" stroke-linejoin="round" textLength="27.2" lengthAdjust="spacing" >3</text>
<ellipse cx="3098.5" cy="1078.2" rx="293.7" ry="390.8" fill="none" stroke="#000" stroke-width="2" stroke-dasharray="18 11"/>
<line x1="3106.8" y1="700" x2="3106.8" y2="794.4" stroke="#000" stroke-width="2.4"/>
<line x1="3115.2" y1="700" x2="3115.2" y2="794.4" stroke="#000" stroke-width="2.4"/>
<path d="M3106.8,700 L3108,693 L3111,700" fill="none" stroke="#000" stroke-width="1.5" />
<rect x="3099.3" y="794.4" width="22.4" height="19" rx="1.5" fill="#fff" stroke="#000" stroke-width="3"/>
<path d="M3094.8,813.4 H3126.2 L3155.3,857.1 H3065.7 Z" fill="#fff" stroke="#000" stroke-width="3.3" />
<path d="M3064.6,856 Q3110.5,844.8 3156.4,856 L3156.4,865 Q3110.5,853.8 3064.6,865 Z" fill="#fff" stroke="#000" stroke-width="3.2" />
<path d="M3064.6,865 L3088.1,898.6 H3132.9 L3156.4,865" fill="#fff" stroke="#000" stroke-width="3.4" />
<path d="M3067.9,871.7 Q3110.5,861.6 3153.1,871.7" fill="none" stroke="#000" stroke-width="2.6" />
<path d="M3080.3,868.3 L3093.9,896.3 M3091.5,868.3 L3100,896.3 M3103.8,868.3 L3106.8,896.3 M3117.2,868.3 L3114.2,896.3 M3129.5,868.3 L3121,896.3 M3140.7,868.3 L3127.1,896.3 " fill="none" stroke="#000" stroke-width="2.8" />
<path d="M3085.9,895.2 H3135.1" fill="none" stroke="#000" stroke-width="4.5" />
<path d="M3089.2,898.6 V904.2 Q3110.5,908.6 3131.8,904.2 V898.6" fill="#fff" stroke="#000" stroke-width="3" />
<path d="M3097.3,921.1 Q3110.5,914.5 3123.7,921.1 L3127,957.4 H3094 Z" fill="#fff" stroke="#000" stroke-width="2.4" />
<path d="M3094,927.7 L3127,924.4 M3094,934.3 L3127,931 M3094,940.9 L3127,937.6 M3094,947.5 L3127,944.2 M3094,954.1 L3127,950.8 " fill="none" stroke="#000" stroke-width="2" />
<rect x="3088.5" y="957.4" width="44" height="13.2" rx="0" fill="#fff" stroke="#000" stroke-width="2.4"/>
<path d="M3095.1,970.6 C3077.5,980.5 3070.9,999.2 3070.9,1021.2 C3070.9,1059.7 3084.1,1122.4 3110.5,1122.4 C3136.9,1122.4 3150.1,1059.7 3150.1,1021.2 C3150.1,999.2 3143.5,980.5 3125.9,970.6" fill="#fff" stroke="#000" stroke-width="2.6" />
<path d="M3099.5,970.6 L3095.1,1004.7 H3125.9 L3121.5,970.6" fill="none" stroke="#000" stroke-width="2.2" />
<path d="M3106.1,1004.7 L3092.9,1046.5 M3114.9,1004.7 L3128.1,1046.5 M3107.2,1004.7 L3107.2,1026.7 L3110.5,1037.7 L3113.8,1026.7 L3113.8,1004.7" fill="none" stroke="#000" stroke-width="2" />
<path d="M3077,1057 C3028,1060 3038,1076 3044,1078 C3048,1084 3063,1086 3075,1084 L3070,1090 L3082,1080 L3068,1072 L3072,1078 C3058,1078 3046,1072 3046,1068 C3048,1063 3065,1063 3077,1063" fill="#fff" stroke="#000" stroke-width="2.2" />
<path d="M3143,1057 C3182,1060 3184,1073 3180,1078 C3174,1084 3162,1086 3135,1090 L3135,1082 C3162,1078 3174,1074 3174,1069 C3174,1063 3150,1063 3143,1063" fill="#fff" stroke="#000" stroke-width="2.2" />
<ellipse cx="3113" cy="1269.3" rx="130" ry="123" fill="none" stroke="#000" stroke-width="3"/>
<ellipse cx="3113" cy="1170.7" rx="45.4" ry="16.3" fill="none" stroke="#000" stroke-width="3"/>
<path d="M2983,1252 C2940,1258 2910,1268 2913,1285 C2916,1300 2930,1315 2960,1323 L2955,1344 L2988,1318 L2965,1293 L2964,1308 C2940,1300 2930,1290 2931,1283 C2935,1275 2955,1268 2984,1265" fill="#fff" stroke="#000" stroke-width="2.8" />
<path d="M3243,1239 C3290,1250 3305,1270 3300,1290 C3295,1310 3270,1325 3245,1332 L3245,1315 C3265,1310 3285,1300 3286,1288 C3288,1275 3270,1260 3243,1252" fill="#fff" stroke="#000" stroke-width="2.8" />
</svg></body></html>
